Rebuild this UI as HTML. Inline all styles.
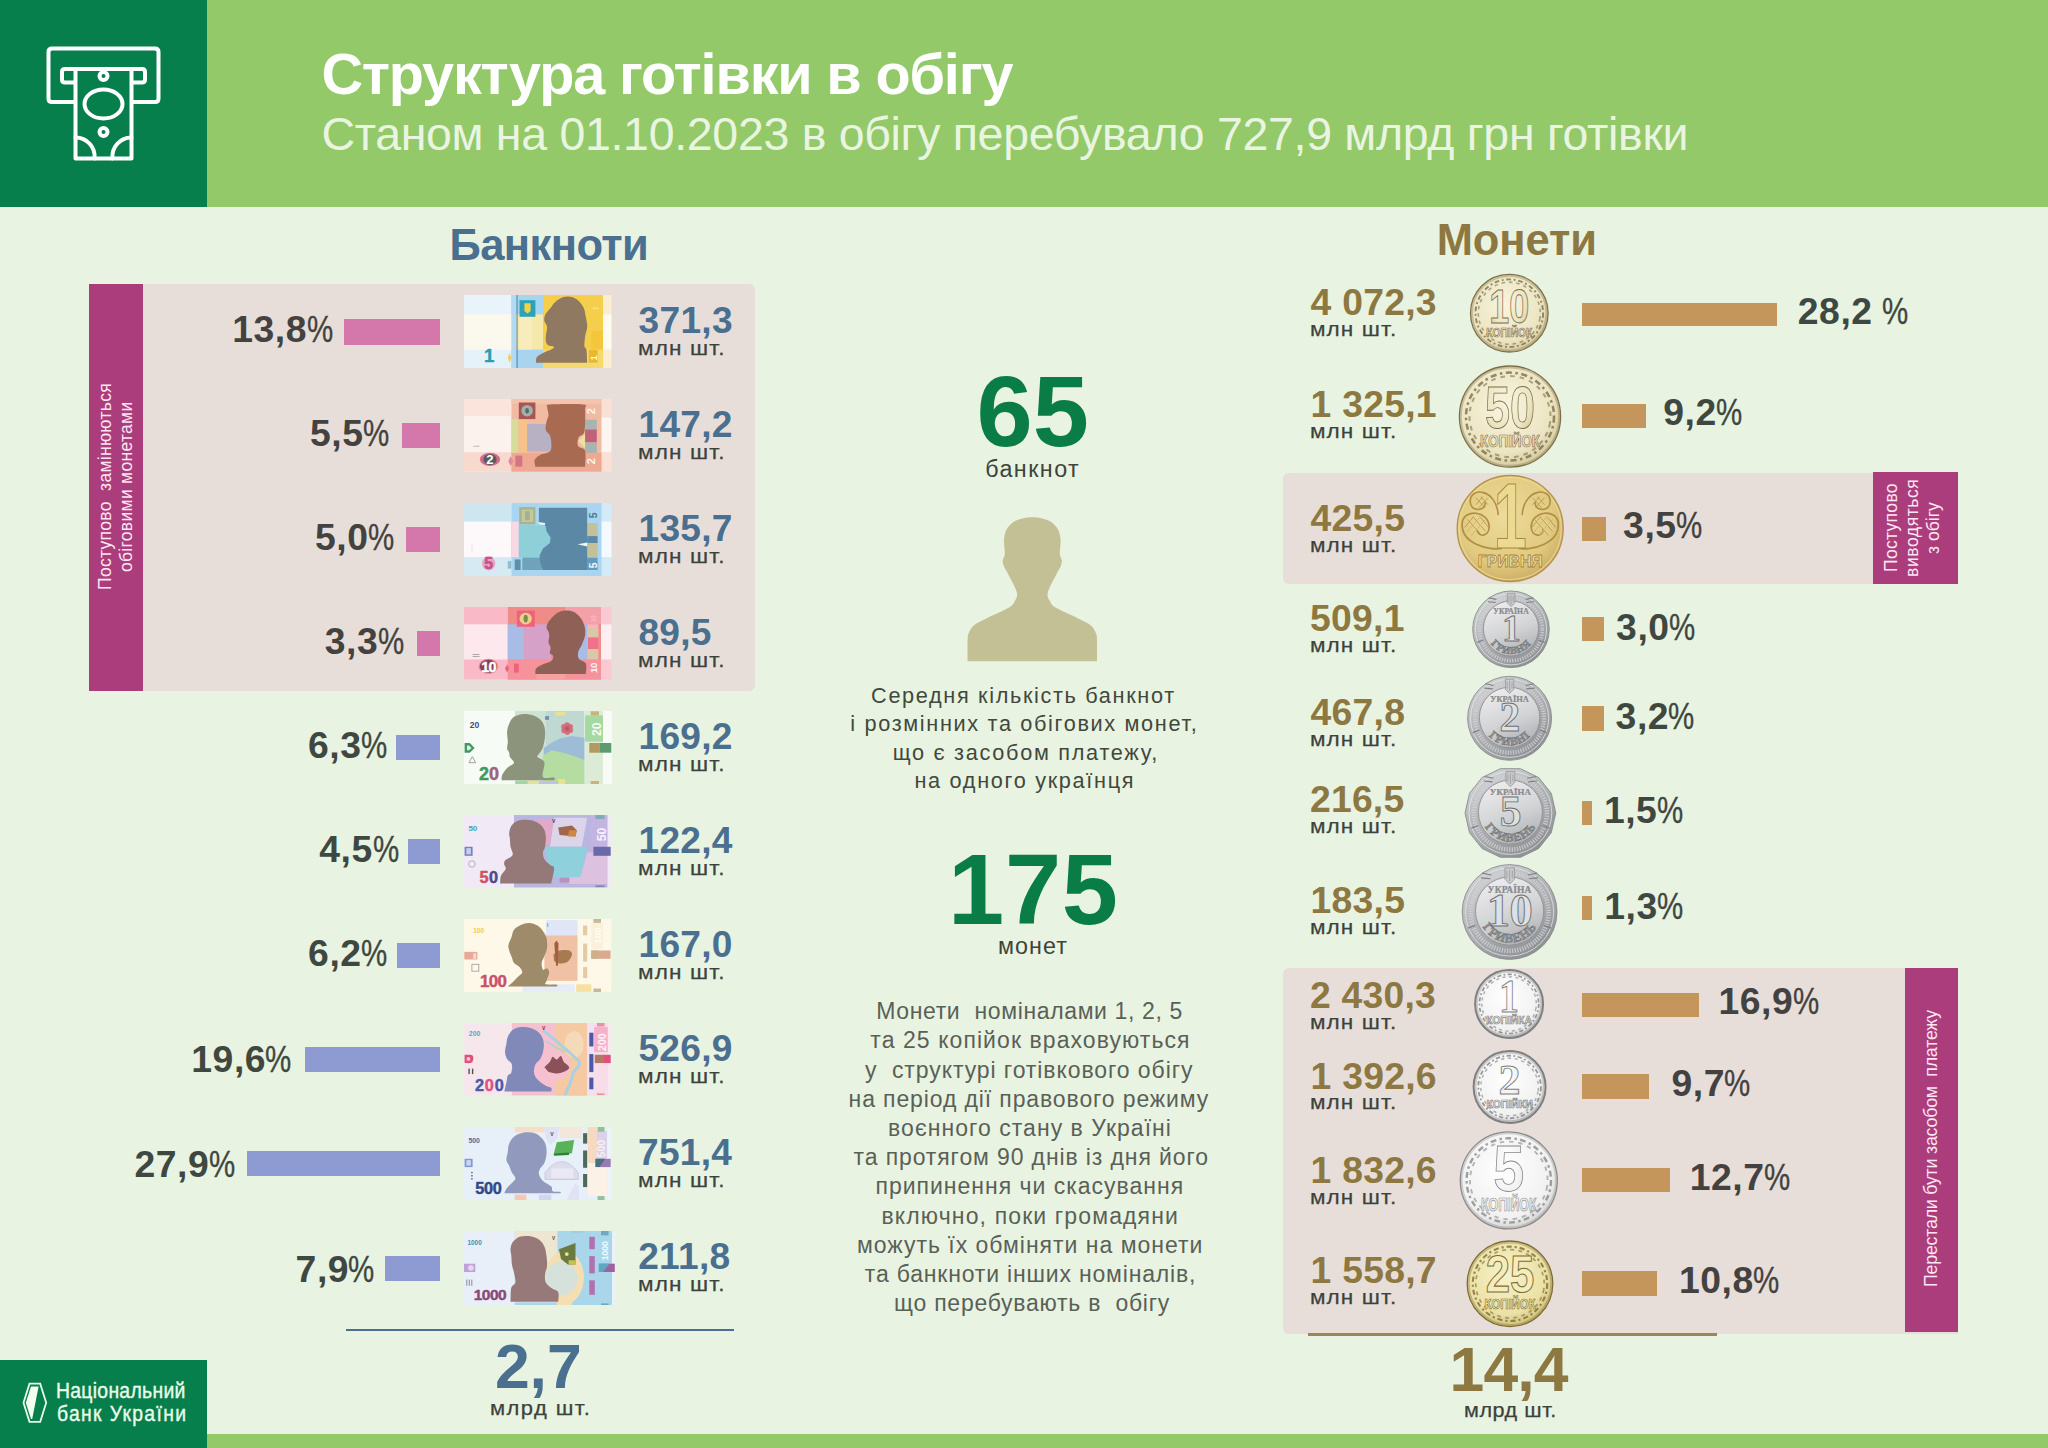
<!DOCTYPE html>
<html lang="uk"><head><meta charset="utf-8"><title>Структура готівки в обігу</title>
<style>
html,body{margin:0;padding:0;}
body{width:2048px;height:1448px;position:relative;overflow:hidden;background:#e9f3e2;font-family:"Liberation Sans",sans-serif;}
.t{position:absolute;white-space:pre;margin:0;padding:0;}
.r{position:absolute;}
svg{position:absolute;overflow:visible;}
</style></head><body>
<header>
<div class="r" style="left:0.0px;top:0.0px;width:2048.0px;height:207.0px;background:#93c968;"></div>
<div class="r" style="left:0.0px;top:0.0px;width:207.0px;height:207.0px;background:#067f4c;"></div>
<svg style="left:40px;top:40px" width="130" height="125" viewBox="40 40 130 125" fill="none" stroke="#fff" stroke-width="4" stroke-linejoin="round" stroke-linecap="round">
<path d="M74 102 H52 Q48.5 102 48.5 98.500 V52 Q48.500 48.500 52 48.500 H155 Q158.500 48.500 158.500 52 V98.500 Q158.500 102 155 102 H133"/>
<path d="M74 82.500 H65 Q62 82.500 62 79.500 V72 Q62 69 65 69 H142 Q145 69 145 72 V79.500 Q145 82.500 142 82.500 H133"/>
<path d="M75.500 69 V158.500 H131.500 V69"/>
<ellipse cx="103.500" cy="104" rx="19" ry="14.500"/>
<circle cx="103.500" cy="76" r="4"/>
<circle cx="103.500" cy="132" r="4"/>
<path d="M75.500 137.500 A 19 19 0 0 1 94.500 158.500"/>
<path d="M131.500 137.500 A 19 19 0 0 0 112.500 158.500"/>
</svg>
<div class="t" style="left:321.4px;top:46.2px;font-size:57.6px;line-height:57.6px;color:#fff;font-weight:700;letter-spacing:-1.17px;">Структура готівки в обігу</div>
<div class="t" style="left:321.4px;top:111.0px;font-size:46.5px;line-height:46.5px;color:#e9f5e0;letter-spacing:-0.31px;">Станом на 01.10.2023 в обігу перебувало 727,9 млрд грн готівки</div>
</header>
<main>
<section class="banknotes">
<div class="t" style="left:449.5px;top:223.6px;font-size:43.5px;line-height:43.5px;color:#4a6f8f;font-weight:700;letter-spacing:-0.58px;">Банкноти</div>
<div class="r" style="left:142.9px;top:283.7px;width:612.3px;height:407.1px;background:#e8ded9;border-radius:0 6px 6px 0;"></div>
<div class="r" style="left:89.2px;top:283.7px;width:53.8px;height:407.1px;background:#ab3d7c;"></div>
<div class="t" style="left:96.7px;top:590.3px;font-size:17.5px;line-height:17.5px;color:#fce6f2;transform-origin:0 0;transform:rotate(-90deg);letter-spacing:0.30px;">Поступово  замінюються</div>
<div class="t" style="left:118.3px;top:572.2px;font-size:17.5px;line-height:17.5px;color:#fce6f2;transform-origin:0 0;transform:rotate(-90deg);letter-spacing:0.30px;">обіговими монетами</div>
<div class="r" style="left:344.3px;top:319.1px;width:95.7px;height:25.6px;background:#d478ac;"></div>
<div class="t" style="left:306.5px;top:311.1px;font-size:37.3px;line-height:37.3px;color:#434240;transform:scaleX(0.791);transform-origin:0 0;-webkit-text-stroke:0.35px #434240;">%</div>
<div class="t" style="left:232.2px;top:311.1px;font-size:37.3px;line-height:37.3px;color:#434240;font-weight:700;letter-spacing:0.55px;">13,8</div>
<svg style="left:464.4px;top:295.1px;overflow:hidden" width="148" height="73.4" viewBox="0 0 148 73.4" font-family="Liberation Sans, sans-serif"><rect x="0.0" y="0.0" width="47.5" height="73.2" fill="#fbf8ee"/><rect x="0.0" y="0.0" width="47.5" height="19.3" fill="#e9f4fa"/><rect x="0.0" y="54.6" width="47.5" height="18.6" fill="#e6f2fa"/><rect x="47.5" y="0.0" width="31.5" height="73.2" fill="#f6e7ab"/><rect x="47.5" y="0.0" width="31.5" height="19.3" fill="#a9d4f0"/><rect x="47.5" y="54.6" width="31.5" height="18.6" fill="#a9d4f0"/><rect x="47.5" y="0.0" width="4.6" height="73.2" fill="#b4d9f2"/><rect x="52.5" y="0.0" width="1.1" height="73.2" fill="#4f8db3"/><rect x="55.5" y="19.3" width="12.4" height="35.2" fill="#f8ecbc"/><rect x="79.0" y="0.0" width="60.1" height="73.2" fill="#f5cf4c"/><rect x="79.0" y="54.6" width="60.1" height="18.6" fill="#f6d96c"/><rect x="127.3" y="35.9" width="11.7" height="18.6" fill="#f3c63c"/><rect x="139.1" y="0.0" width="8.3" height="73.2" fill="#fbedcf"/><rect x="139.1" y="19.3" width="8.3" height="35.2" fill="#fdfaf0"/><rect x="55.5" y="5.2" width="15.9" height="16.6" fill="#2ba3b6"/><polygon points="60.4,8.3 66.6,8.3 66.6,15.9 63.5,18.6 60.4,15.9" fill="#f3d24a"/><path d="M72.1 67.7C72.2 66.8 71.6 63.8 72.8 62.2C73.9 60.5 76.6 59.3 79.0 58.0C81.4 56.7 85.5 55.6 87.3 54.6C89.1 53.5 90.3 52.4 90.1 51.8C89.8 51.2 87.2 51.7 85.9 51.1C84.6 50.5 83.1 50.0 82.5 48.3C81.8 46.7 81.7 44.2 81.8 41.4C81.9 38.7 83.4 34.3 83.1 31.8C82.9 29.2 80.7 28.2 80.4 26.2C80.0 24.3 80.2 22.1 81.1 20.0C82.0 18.0 84.2 16.0 85.9 13.8C87.6 11.6 89.1 8.9 91.4 6.9C93.7 4.9 97.0 2.9 99.7 2.1C102.5 1.3 105.5 1.4 108.0 2.1C110.5 2.8 113.0 4.4 114.9 6.2C116.9 8.1 118.6 10.5 119.8 13.1C120.9 15.8 121.2 19.0 121.8 22.1C122.4 25.2 123.3 28.5 123.2 31.8C123.1 35.0 121.6 38.2 121.1 41.4C120.7 44.7 120.2 48.8 120.4 51.1C120.7 53.4 122.1 52.5 122.5 55.2C123.0 58.0 123.1 65.6 123.2 67.7Z" fill="#8f7960"/><text x="19.9" y="67.0" font-size="18.6" font-weight="700" fill="#2b9db0" text-anchor="start" stroke="#2b9db0" stroke-width="0.450" stroke-linejoin="round">1</text><polygon points="43.8,62.8 45.6,58.0 47.4,62.8 45.6,67.7" fill="#f0cf55"/><rect x="124.6" y="55.0" width="9.0" height="12.7" fill="#e8b82f"/><text x="132.6" y="65.6" font-size="9.7" font-weight="700" fill="#fdf6dd" text-anchor="start" transform="rotate(-90 132.6 65.6)">1</text><text x="133.6" y="15.2" font-size="6.9" font-weight="700" fill="#f8e49a" text-anchor="start" transform="rotate(-90 133.6 15.2)">1</text></svg>
<div class="t" style="left:638.6px;top:301.7px;font-size:37.1px;line-height:37.1px;color:#4a6f8f;font-weight:700;letter-spacing:0.30px;">371,3</div>
<div class="t" style="left:637.9px;top:338.0px;font-size:20.5px;line-height:20.5px;color:#3c423c;letter-spacing:1.05px;transform:scaleX(1.100);transform-origin:0 0;-webkit-text-stroke:0.25px #3c423c;">млн шт.</div>
<div class="r" style="left:401.5px;top:423.3px;width:38.5px;height:24.6px;background:#d478ac;"></div>
<div class="t" style="left:363.2px;top:414.8px;font-size:37.3px;line-height:37.3px;color:#434240;transform:scaleX(0.791);transform-origin:0 0;-webkit-text-stroke:0.35px #434240;">%</div>
<div class="t" style="left:310.0px;top:414.8px;font-size:37.3px;line-height:37.3px;color:#434240;font-weight:700;letter-spacing:0.55px;">5,5</div>
<svg style="left:464.4px;top:399.1px;overflow:hidden" width="148" height="73.4" viewBox="0 0 148 73.4" font-family="Liberation Sans, sans-serif"><rect x="0.0" y="0.0" width="47.5" height="72.5" fill="#fcf2ed"/><rect x="0.0" y="0.0" width="47.5" height="17.3" fill="#fbe4dc"/><rect x="0.0" y="53.2" width="47.5" height="19.3" fill="#f8d9cd"/><rect x="47.5" y="0.0" width="90.2" height="72.5" fill="#f1bba3"/><rect x="47.5" y="53.9" width="90.2" height="18.6" fill="#efa892"/><rect x="47.5" y="0.0" width="90.2" height="4.8" fill="#f3c4ae"/><rect x="47.9" y="20.0" width="6.5" height="33.8" fill="#d6dd9c"/><rect x="54.4" y="20.0" width="8.7" height="33.8" fill="#f5c28c"/><rect x="63.1" y="24.9" width="24.2" height="27.6" fill="#b8b0c3"/><rect x="137.7" y="0.0" width="9.7" height="72.5" fill="#fbe0d6"/><rect x="137.7" y="18.6" width="9.7" height="34.5" fill="#fdf5f1"/><rect x="54.8" y="3.5" width="16.6" height="16.6" fill="#a95652"/><ellipse cx="63.1" cy="11.7" rx="5.8" ry="5.8" fill="#9fb0ad"/><ellipse cx="63.1" cy="11.7" rx="1.9" ry="2.8" fill="#5a6a66"/><polygon points="121.1,35.2 114.2,42.1 121.1,49.0" fill="#e9e59c"/><rect x="121.1" y="20.7" width="11.7" height="9.7" fill="#a9b4b1"/><rect x="121.1" y="30.4" width="11.7" height="13.1" fill="#c0627a"/><rect x="121.1" y="43.5" width="11.7" height="10.4" fill="#a9b4b1"/><path d="M71.4 67.7C71.3 66.5 69.9 62.7 70.7 60.8C71.5 58.8 73.7 57.3 76.2 55.9C78.8 54.6 84.1 54.3 85.9 52.5C87.8 50.6 87.3 47.5 87.3 44.9C87.3 42.2 86.8 38.9 85.9 36.6C85.0 34.3 82.3 33.4 81.8 31.1C81.2 28.8 82.0 25.3 82.5 22.8C82.9 20.3 84.4 18.4 84.5 15.9C84.6 13.4 82.9 9.3 83.1 7.6C83.4 5.9 79.9 5.9 85.9 5.5C91.9 5.2 113.2 4.7 119.1 5.5C124.9 6.3 120.9 5.9 121.1 10.4C121.4 14.8 121.5 27.9 120.4 32.5C119.4 37.1 116.1 35.9 114.9 38.0C113.8 40.1 113.4 43.2 113.5 44.9C113.7 46.6 114.3 47.2 115.6 48.3C116.9 49.5 120.2 48.6 121.1 51.8C122.1 55.0 121.1 65.0 121.1 67.7Z" fill="#a86a50"/><ellipse cx="26.0" cy="60.4" rx="10.1" ry="6.6" fill="#d06c8a"/><ellipse cx="26.0" cy="60.4" rx="6.6" ry="5.5" fill="#5b5a62"/><text x="26.0" y="65.3" font-size="13.1" font-weight="700" fill="#ffffff" text-anchor="middle">2</text><polygon points="44.2,62.2 46.7,57.3 49.2,62.2 46.7,67.0" fill="#e08aa0"/><rect x="51.4" y="56.6" width="6.9" height="11.0" fill="#d27486"/><text x="131.2" y="15.2" font-size="11.0" font-weight="700" fill="#fdf3ee" text-anchor="start" transform="rotate(-90 131.2 15.2)">2</text><text x="131.2" y="65.2" font-size="11.0" font-weight="700" fill="#fdf3ee" text-anchor="start" transform="rotate(-90 131.2 65.2)">2</text><rect x="9.3" y="46.7" width="6.2" height="1.2" fill="#c9c0c0"/></svg>
<div class="t" style="left:638.5px;top:405.7px;font-size:37.1px;line-height:37.1px;color:#4a6f8f;font-weight:700;letter-spacing:0.30px;">147,2</div>
<div class="t" style="left:637.9px;top:442.0px;font-size:20.5px;line-height:20.5px;color:#3c423c;letter-spacing:1.05px;transform:scaleX(1.100);transform-origin:0 0;-webkit-text-stroke:0.25px #3c423c;">млн шт.</div>
<div class="r" style="left:405.6px;top:527.1px;width:34.4px;height:24.8px;background:#d478ac;"></div>
<div class="t" style="left:367.7px;top:519.2px;font-size:37.3px;line-height:37.3px;color:#434240;transform:scaleX(0.791);transform-origin:0 0;-webkit-text-stroke:0.35px #434240;">%</div>
<div class="t" style="left:315.0px;top:519.2px;font-size:37.3px;line-height:37.3px;color:#434240;font-weight:700;letter-spacing:0.55px;">5,0</div>
<svg style="left:464.4px;top:503.1px;overflow:hidden" width="148" height="73.4" viewBox="0 0 148 73.4" font-family="Liberation Sans, sans-serif"><rect x="0.0" y="0.0" width="47.5" height="73.2" fill="#fdf9fa"/><rect x="0.0" y="0.0" width="47.5" height="18.6" fill="#cde6f0"/><rect x="0.0" y="54.1" width="47.5" height="19.1" fill="#d5eaf2"/><rect x="47.5" y="0.0" width="90.2" height="73.2" fill="#a9d5f0"/><rect x="47.5" y="18.6" width="7.3" height="35.5" fill="#f8d9e1"/><rect x="54.8" y="22.1" width="32.5" height="32.5" fill="#8fd0d8"/><rect x="137.7" y="0.0" width="9.7" height="73.2" fill="#d3ebf8"/><rect x="137.7" y="18.6" width="9.7" height="35.5" fill="#f3f9fd"/><rect x="55.2" y="4.1" width="16.2" height="17.3" fill="#a3b598"/><rect x="57.6" y="6.6" width="11.5" height="12.4" fill="#c8c98f"/><rect x="61.0" y="8.3" width="4.8" height="9.0" fill="#9fb0a0"/><rect x="58.3" y="54.6" width="64.9" height="12.4" fill="#6fa3bc"/><rect x="50.7" y="56.4" width="5.9" height="10.6" fill="#5e90aa"/><rect x="43.8" y="58.0" width="3.5" height="7.6" fill="#8fbdd2"/><rect x="123.2" y="20.0" width="10.4" height="13.1" fill="#c2c19a"/><rect x="123.2" y="33.1" width="10.4" height="6.9" fill="#5b88a5"/><rect x="123.2" y="40.1" width="10.4" height="13.8" fill="#c2c19a"/><rect x="123.2" y="54.6" width="10.4" height="12.4" fill="#5f9cc0"/><polygon points="74.9,4.8 123.2,4.8 123.2,67.0 79.0,67.0 76.2,59.4 75.6,52.5 79.0,45.6 85.9,40.1 86.6,34.5 82.5,28.3 81.8,23.5 80.4,21.4 74.9,21.0" fill="#5b88a5"/><polygon points="73.5,19.1 81.1,20.0 81.1,21.8 76.2,21.8" fill="#eef6fa"/><polygon points="113.5,41.2 123.2,39.4 123.2,43.5" fill="#eef6fa"/><text x="132.6" y="15.2" font-size="10.5" font-weight="700" fill="#4a7a95" text-anchor="start" transform="rotate(-90 132.6 15.2)">5</text><text x="132.6" y="65.2" font-size="10.5" font-weight="700" fill="#f2f9fd" text-anchor="start" transform="rotate(-90 132.6 65.2)">5</text><ellipse cx="24.7" cy="60.5" rx="6.6" ry="6.9" fill="#e3a5c4"/><text x="24.7" y="66.3" font-size="15.9" font-weight="700" fill="#c8508a" text-anchor="middle" stroke="#c8508a" stroke-width="0.450" stroke-linejoin="round">5</text><rect x="7.7" y="41.4" width="0.6" height="8.3" fill="#d5d5dc"/></svg>
<div class="t" style="left:638.5px;top:509.7px;font-size:37.1px;line-height:37.1px;color:#4a6f8f;font-weight:700;letter-spacing:0.30px;">135,7</div>
<div class="t" style="left:637.9px;top:546.0px;font-size:20.5px;line-height:20.5px;color:#3c423c;letter-spacing:1.05px;transform:scaleX(1.100);transform-origin:0 0;-webkit-text-stroke:0.25px #3c423c;">млн шт.</div>
<div class="r" style="left:416.7px;top:631.1px;width:23.3px;height:24.6px;background:#d478ac;"></div>
<div class="t" style="left:377.6px;top:623.2px;font-size:37.3px;line-height:37.3px;color:#434240;transform:scaleX(0.791);transform-origin:0 0;-webkit-text-stroke:0.35px #434240;">%</div>
<div class="t" style="left:324.8px;top:623.2px;font-size:37.3px;line-height:37.3px;color:#434240;font-weight:700;letter-spacing:0.55px;">3,3</div>
<svg style="left:464.4px;top:607.1px;overflow:hidden" width="148" height="73.4" viewBox="0 0 148 73.4" font-family="Liberation Sans, sans-serif"><rect x="0.0" y="0.0" width="43.8" height="72.5" fill="#fde8ee"/><rect x="0.0" y="0.0" width="43.8" height="17.3" fill="#f9b9c6"/><rect x="0.0" y="52.5" width="43.8" height="20.0" fill="#f9b9c6"/><rect x="43.8" y="0.0" width="93.2" height="72.5" fill="#f08c87"/><rect x="43.8" y="52.5" width="93.2" height="20.0" fill="#f5929c"/><rect x="101.1" y="0.0" width="35.9" height="17.3" fill="#f4a0a8"/><rect x="43.8" y="17.3" width="16.6" height="35.2" fill="#a9bce5"/><rect x="60.4" y="17.3" width="26.9" height="35.2" fill="#d6a1c9"/><rect x="112.2" y="17.3" width="11.0" height="35.2" fill="#a9bce5"/><rect x="123.2" y="17.3" width="11.0" height="35.2" fill="#f7b4c0"/><rect x="123.9" y="20.7" width="10.4" height="9.7" fill="#d8c8a8"/><rect x="123.9" y="30.4" width="10.4" height="11.7" fill="#f0728a"/><rect x="123.9" y="42.1" width="10.4" height="9.7" fill="#d8c8a8"/><rect x="137.0" y="0.0" width="10.4" height="72.5" fill="#fbc9d4"/><rect x="137.0" y="17.3" width="10.4" height="35.2" fill="#fdeef2"/><rect x="52.8" y="3.5" width="18.0" height="16.3" fill="#f0627c"/><ellipse cx="61.7" cy="11.6" rx="6.2" ry="5.8" fill="#e8cf8a"/><ellipse cx="61.7" cy="11.6" rx="2.1" ry="3.9" fill="#7a8a50"/><path d="M71.4 67.0C71.5 66.1 70.8 63.1 72.1 61.5C73.4 59.9 76.5 58.6 79.0 57.3C81.5 56.1 85.6 55.2 87.3 53.9C89.0 52.5 89.6 50.3 89.4 49.0C89.1 47.8 86.4 47.7 85.9 46.3C85.5 44.9 86.8 42.6 86.6 40.7C86.4 38.9 84.8 37.5 84.5 35.2C84.3 32.9 85.6 29.5 85.2 26.9C84.9 24.4 82.3 22.3 82.5 20.0C82.6 17.7 84.2 15.4 85.9 13.1C87.6 10.8 90.3 7.8 92.8 6.2C95.3 4.6 98.3 3.7 101.1 3.5C103.9 3.2 106.9 3.7 109.4 4.8C111.9 6.0 114.5 8.1 116.3 10.4C118.1 12.7 119.6 15.7 120.4 18.6C121.2 21.6 121.6 25.1 121.1 28.3C120.7 31.5 118.8 35.2 117.7 38.0C116.5 40.7 114.7 42.6 114.2 44.9C113.8 47.2 113.7 49.8 114.9 51.8C116.2 53.8 120.7 54.1 121.8 56.6C123.0 59.2 121.8 65.3 121.8 67.0Z" fill="#8f6056"/><rect x="72.1" y="67.0" width="29.0" height="5.5" fill="#f6a0a0"/><ellipse cx="24.4" cy="59.4" rx="9.9" ry="7.6" fill="#e58aa0"/><ellipse cx="24.4" cy="59.4" rx="8.6" ry="6.6" fill="#8a4152"/><text x="24.4" y="65.2" font-size="14.5" font-weight="700" fill="#ffffff" text-anchor="middle" letter-spacing="-1" stroke="#ffffff" stroke-width="0.450" stroke-linejoin="round">10</text><polygon points="41.0,61.5 43.1,57.3 45.2,61.5 43.1,65.6" fill="#f0627c"/><rect x="50.0" y="56.6" width="4.8" height="9.0" fill="#f0627c"/><text x="132.6" y="65.9" font-size="9.9" font-weight="700" fill="#fff4f6" text-anchor="start" letter-spacing="-0.5" transform="rotate(-90 132.6 65.9)">10</text><text x="132.2" y="15.2" font-size="6.9" font-weight="700" fill="#f8b8c4" text-anchor="start" letter-spacing="-0.5" transform="rotate(-90 132.2 15.2)">10</text><rect x="8.6" y="47.0" width="6.9" height="1.0" fill="#b0a8a8"/><rect x="8.6" y="49.0" width="6.9" height="1.0" fill="#b0a8a8"/></svg>
<div class="t" style="left:638.4px;top:613.7px;font-size:37.1px;line-height:37.1px;color:#4a6f8f;font-weight:700;letter-spacing:0.30px;">89,5</div>
<div class="t" style="left:637.9px;top:650.0px;font-size:20.5px;line-height:20.5px;color:#3c423c;letter-spacing:1.05px;transform:scaleX(1.100);transform-origin:0 0;-webkit-text-stroke:0.25px #3c423c;">млн шт.</div>
<div class="r" style="left:395.9px;top:735.3px;width:44.1px;height:24.8px;background:#8e9bd3;"></div>
<div class="t" style="left:360.8px;top:726.6px;font-size:37.3px;line-height:37.3px;color:#3e4840;transform:scaleX(0.791);transform-origin:0 0;-webkit-text-stroke:0.35px #3e4840;">%</div>
<div class="t" style="left:308.0px;top:726.6px;font-size:37.3px;line-height:37.3px;color:#3e4840;font-weight:700;letter-spacing:0.55px;">6,3</div>
<svg style="left:464.4px;top:711.1px;overflow:hidden" width="148" height="73.4" viewBox="0 0 148 73.4" font-family="Liberation Sans, sans-serif"><rect x="0.0" y="0.0" width="148.1" height="73.5" fill="#f7fbf5"/><rect x="51.4" y="0.0" width="69.1" height="73.5" fill="#bfd9d2"/><rect x="51.4" y="0.0" width="30.4" height="73.5" fill="#cfe3d4"/><polygon points="79.7,36.9 87.3,32.0 95.6,27.6 108.0,25.1 120.4,26.8 120.4,49.3 108.0,44.8 95.6,41.2 79.7,43.8" fill="#9dbdd6"/><polygon points="79.0,73.5 79.0,44.8 87.3,39.2 101.1,42.3 112.2,45.9 120.4,49.2 120.4,73.5" fill="#b5dca1"/><rect x="51.4" y="70.0" width="12.4" height="3.5" fill="#a5d5a1"/><rect x="63.8" y="70.0" width="11.0" height="3.5" fill="#e8e191"/><rect x="74.9" y="70.0" width="19.3" height="3.5" fill="#c1c1e1"/><rect x="94.2" y="68.0" width="6.9" height="5.5" fill="#e8e191"/><rect x="91.4" y="1.0" width="9.7" height="3.5" fill="#e8e191"/><rect x="121.1" y="0.0" width="18.0" height="73.5" fill="#dcebd5"/><rect x="121.1" y="4.4" width="18.0" height="26.2" fill="#a5d9a1"/><rect x="139.1" y="0.0" width="9.0" height="73.5" fill="#f8fbf5"/><rect x="126.7" y="0.3" width="8.3" height="4.1" fill="#c9b37a"/><rect x="126.7" y="70.0" width="8.3" height="3.5" fill="#c9b37a"/><rect x="125.3" y="32.0" width="10.4" height="9.7" fill="#b09a60"/><rect x="135.6" y="32.0" width="11.7" height="9.7" fill="#5e9a70"/><ellipse cx="106.3" cy="19.3" rx="2.8" ry="2.8" fill="#d2727c"/><ellipse cx="103.3" cy="21.1" rx="2.8" ry="2.8" fill="#d2727c"/><ellipse cx="100.1" cy="19.4" rx="2.8" ry="2.8" fill="#d2727c"/><ellipse cx="100.0" cy="15.8" rx="2.8" ry="2.8" fill="#d2727c"/><ellipse cx="103.1" cy="14.0" rx="2.8" ry="2.8" fill="#d2727c"/><ellipse cx="106.2" cy="15.7" rx="2.8" ry="2.8" fill="#d2727c"/><ellipse cx="103.2" cy="17.5" rx="3.3" ry="3.3" fill="#c8626e"/><ellipse cx="103.2" cy="17.5" rx="1.2" ry="1.2" fill="#a85560"/><path d="M37.6 69.3C37.7 68.4 37.3 65.9 38.3 63.8C39.2 61.7 41.1 58.9 43.1 56.9C45.1 54.9 49.5 53.9 50.0 52.1C50.5 50.2 46.7 47.6 45.9 45.9C45.1 44.1 45.6 43.1 45.2 41.7C44.7 40.3 43.3 39.4 43.1 37.6C42.9 35.7 43.8 33.4 43.8 30.7C43.8 27.9 42.9 24.0 43.1 21.0C43.3 18.0 44.0 15.2 45.2 12.7C46.3 10.2 47.6 7.4 50.0 5.8C52.4 4.2 56.4 3.3 59.7 3.0C62.9 2.8 66.6 3.5 69.3 4.4C72.1 5.3 74.4 6.7 76.2 8.6C78.1 10.4 79.6 12.7 80.4 15.5C81.2 18.2 81.3 21.7 81.1 25.1C80.8 28.6 80.0 33.2 79.0 36.2C78.0 39.2 75.8 41.5 74.9 43.1C73.9 44.7 72.6 44.5 73.5 45.9C74.4 47.2 79.5 48.0 80.4 51.4C81.3 54.7 77.4 63.4 79.0 65.9C80.6 68.4 88.2 66.0 90.1 66.6C91.9 67.2 90.1 68.9 90.1 69.3Z" fill="#8c957b"/><text x="5.8" y="17.5" font-size="8.6" font-weight="700" fill="#4a4a7a" text-anchor="start">20</text><polygon points="0.6,32.0 5.8,32.0 10.6,36.9 5.8,41.7 0.6,41.7" fill="#3f9a60"/><polygon points="3.0,34.5 5.1,34.5 7.5,36.9 5.1,39.2 3.0,39.2" fill="#e0f0e0"/><polygon points="8.3,45.6 11.6,51.7 5.0,51.7" fill="none" stroke="#8a8a90" stroke-width="0.8"/><text x="14.9" y="69.3" font-size="18.0" font-weight="700" fill="#3f9a60" text-anchor="start" stroke="#3f9a60" stroke-width="0.450" stroke-linejoin="round">2</text><text x="24.9" y="69.3" font-size="18.0" font-weight="700" fill="#a0617f" text-anchor="start" stroke="#a0617f" stroke-width="0.450" stroke-linejoin="round">0</text><text x="137.3" y="25.1" font-size="12.2" font-weight="700" fill="#f4faf2" text-anchor="start" transform="rotate(-90 137.3 25.1)">20</text><text x="81.1" y="8.6" font-size="4.7" font-weight="700" fill="#5a5a9a" text-anchor="start">M</text></svg>
<div class="t" style="left:638.5px;top:717.7px;font-size:37.1px;line-height:37.1px;color:#4a6f8f;font-weight:700;letter-spacing:0.30px;">169,2</div>
<div class="t" style="left:637.9px;top:754.0px;font-size:20.5px;line-height:20.5px;color:#3c423c;letter-spacing:1.05px;transform:scaleX(1.100);transform-origin:0 0;-webkit-text-stroke:0.25px #3c423c;">млн шт.</div>
<div class="r" style="left:408.4px;top:839.3px;width:31.6px;height:24.8px;background:#8e9bd3;"></div>
<div class="t" style="left:372.5px;top:831.0px;font-size:37.3px;line-height:37.3px;color:#3e4840;transform:scaleX(0.791);transform-origin:0 0;-webkit-text-stroke:0.35px #3e4840;">%</div>
<div class="t" style="left:319.3px;top:831.0px;font-size:37.3px;line-height:37.3px;color:#3e4840;font-weight:700;letter-spacing:0.55px;">4,5</div>
<svg style="left:464.4px;top:815.1px;overflow:hidden" width="148" height="73.4" viewBox="0 0 148 73.4" font-family="Liberation Sans, sans-serif"><rect x="0.0" y="0.0" width="147.4" height="72.5" fill="#f1e9f6"/><rect x="50.0" y="0.0" width="93.6" height="72.5" fill="#bab6e0"/><polygon points="73.5,4.1 91.4,4.1 90.1,24.9 80.4,31.8 73.5,31.8" fill="#e2a9c9"/><polygon points="90.1,2.8 123.2,2.8 117.7,31.8 85.9,31.8 87.3,23.5" fill="#dcd5ea"/><polygon points="80.4,31.8 123.2,31.8 116.3,62.2 90.1,62.2 84.5,49.7" fill="#8fd0dd"/><polygon points="123.2,37.3 143.6,37.3 143.6,69.1 105.2,69.1 105.2,62.2 116.3,62.2" fill="#dcc1e1"/><rect x="95.6" y="62.8" width="9.7" height="4.8" fill="#b891c1"/><rect x="126.7" y="0.0" width="17.0" height="37.3" fill="#c3b4e2"/><rect x="143.6" y="0.0" width="3.7" height="72.5" fill="#efeaf6"/><rect x="131.5" y="0.0" width="9.0" height="4.1" fill="#82aaba"/><rect x="131.5" y="70.4" width="9.0" height="1.7" fill="#8a80b0"/><rect x="129.4" y="31.8" width="17.3" height="9.0" fill="#6a6aa8"/><polygon points="94.2,12.4 108.0,10.4 112.8,15.2 111.5,21.4 95.6,20.0" fill="#a0674a"/><polygon points="105.2,15.2 112.8,15.2 111.5,21.4 103.9,21.4" fill="#d08a40"/><path d="M36.2 68.4C36.3 67.1 36.0 63.2 36.9 60.8C37.8 58.4 41.1 55.7 41.7 53.9C42.3 52.0 40.4 51.1 40.3 49.7C40.2 48.3 39.6 47.2 41.0 45.6C42.4 44.0 47.7 42.4 48.6 40.1C49.5 37.8 47.0 34.5 46.5 31.8C46.1 29.0 46.1 25.8 45.9 23.5C45.6 21.2 44.9 20.0 45.2 18.0C45.4 15.9 46.0 13.0 47.2 11.0C48.5 9.1 50.2 7.3 52.8 6.2C55.3 5.2 59.2 4.7 62.4 4.8C65.7 4.9 69.3 5.6 72.1 6.9C74.9 8.2 77.4 10.1 79.0 12.4C80.6 14.7 81.4 17.5 81.8 20.7C82.1 23.9 81.5 29.0 81.1 31.8C80.6 34.5 79.1 35.2 79.0 37.3C78.9 39.4 79.2 42.1 80.4 44.2C81.5 46.3 84.3 48.2 85.9 49.7C87.5 51.2 89.8 50.1 90.1 53.2C90.3 56.3 87.8 65.8 87.3 68.4Z" fill="#957979"/><text x="4.4" y="15.9" font-size="8.0" font-weight="700" fill="#3fa5b5" text-anchor="start">50</text><rect x="0.6" y="31.8" width="8.0" height="9.0" fill="#7282ba"/><rect x="2.3" y="33.1" width="4.6" height="6.2" fill="#c5cdf0"/><ellipse cx="7.9" cy="49.0" rx="3.3" ry="3.3" fill="none" stroke="#a8a8b8" stroke-width="0.9"/><text x="15.5" y="67.7" font-size="16.3" font-weight="700" fill="#d05262" text-anchor="start" stroke="#d05262" stroke-width="0.450" stroke-linejoin="round">5</text><text x="25.1" y="67.7" font-size="16.3" font-weight="700" fill="#4a4a8c" text-anchor="start" stroke="#4a4a8c" stroke-width="0.450" stroke-linejoin="round">0</text><text x="141.9" y="26.2" font-size="12.2" font-weight="700" fill="#f6f2fb" text-anchor="start" transform="rotate(-90 141.9 26.2)">50</text><text x="88.0" y="8.3" font-size="5.0" font-weight="700" fill="#3a3a6a" text-anchor="start">V</text></svg>
<div class="t" style="left:638.5px;top:821.7px;font-size:37.1px;line-height:37.1px;color:#4a6f8f;font-weight:700;letter-spacing:0.30px;">122,4</div>
<div class="t" style="left:637.9px;top:858.0px;font-size:20.5px;line-height:20.5px;color:#3c423c;letter-spacing:1.05px;transform:scaleX(1.100);transform-origin:0 0;-webkit-text-stroke:0.25px #3c423c;">млн шт.</div>
<div class="r" style="left:396.8px;top:943.1px;width:43.2px;height:24.8px;background:#8e9bd3;"></div>
<div class="t" style="left:360.8px;top:934.8px;font-size:37.3px;line-height:37.3px;color:#3e4840;transform:scaleX(0.791);transform-origin:0 0;-webkit-text-stroke:0.35px #3e4840;">%</div>
<div class="t" style="left:308.1px;top:934.8px;font-size:37.3px;line-height:37.3px;color:#3e4840;font-weight:700;letter-spacing:0.55px;">6,2</div>
<svg style="left:464.4px;top:919.1px;overflow:hidden" width="148" height="73.4" viewBox="0 0 148 73.4" font-family="Liberation Sans, sans-serif"><rect x="0.0" y="0.0" width="147.4" height="72.9" fill="#fdf8e7"/><rect x="81.8" y="1.1" width="31.8" height="15.2" fill="#e1e6f6"/><rect x="80.4" y="16.3" width="33.1" height="45.6" fill="#f1c1a6"/><rect x="58.3" y="65.3" width="52.5" height="7.6" fill="#e6ebf6"/><rect x="112.2" y="65.3" width="15.2" height="7.6" fill="#f5e1a1"/><rect x="119.1" y="6.6" width="4.1" height="9.7" fill="#e3caa1"/><rect x="119.1" y="24.6" width="4.1" height="18.0" fill="#e3caa1"/><rect x="119.1" y="48.1" width="4.1" height="11.0" fill="#e3caa1"/><rect x="127.3" y="3.9" width="11.7" height="26.2" fill="#fbf0da"/><rect x="127.3" y="31.5" width="19.3" height="8.3" fill="#dba992"/><rect x="127.3" y="31.5" width="6.9" height="8.3" fill="#cdb08a"/><rect x="129.4" y="0.0" width="7.6" height="3.9" fill="#c9b999"/><rect x="129.4" y="69.5" width="7.6" height="3.5" fill="#c9b999"/><path d="M89.4 35.6C90.4 34.9 92.9 32.2 95.6 31.5C98.2 30.8 103.2 30.8 105.2 31.5C107.3 32.2 108.2 33.8 108.0 35.6C107.8 37.5 105.9 41.0 103.9 42.5C101.8 44.0 97.9 44.7 95.6 44.6C93.3 44.5 91.0 42.3 90.1 41.9Z" fill="#a97951"/><polygon points="90.3,24.6 92.5,21.5 94.5,24.6 93.9,46.7 92.1,46.7" fill="#a06040"/><path d="M43.8 67.4C44.6 66.7 46.9 64.9 48.6 63.3C50.3 61.6 52.5 59.3 54.1 57.7C55.8 56.1 58.1 55.2 58.3 53.6C58.5 52.0 56.9 49.7 55.5 48.1C54.1 46.5 51.3 45.5 50.0 43.9C48.7 42.3 48.7 40.5 47.9 38.4C47.1 36.3 45.7 33.6 45.2 31.5C44.6 29.4 44.1 28.0 44.5 26.0C44.8 23.9 46.3 21.6 47.2 19.1C48.2 16.5 48.4 13.0 50.0 10.8C51.6 8.6 54.4 7.1 56.9 5.9C59.4 4.8 62.4 3.8 65.2 3.9C68.0 4.0 71.2 5.2 73.5 6.6C75.8 8.0 77.5 10.1 79.0 12.2C80.5 14.2 81.8 16.3 82.5 19.1C83.1 21.8 83.5 25.7 83.1 28.7C82.8 31.7 81.3 34.5 80.4 37.0C79.5 39.5 77.9 41.6 77.6 43.9C77.4 46.2 78.1 49.9 79.0 50.8C79.9 51.7 82.1 49.0 83.1 49.4C84.2 49.9 85.3 51.5 85.2 53.6C85.1 55.7 83.0 59.9 82.5 61.9C81.9 63.8 80.0 64.7 81.8 65.3C83.5 66.0 91.0 65.4 92.8 65.7C94.7 66.1 92.8 67.1 92.8 67.4Z" fill="#9e8b69"/><text x="9.3" y="14.2" font-size="6.4" font-weight="700" fill="#f0c850" text-anchor="start">100</text><rect x="0.3" y="32.9" width="13.1" height="7.6" fill="#e9a999"/><rect x="9.3" y="34.3" width="2.8" height="5.5" fill="#f8dcd4"/><rect x="7.9" y="45.3" width="6.9" height="6.9" fill="none" stroke="#9a9aa0" stroke-width="0.8"/><text x="15.9" y="68.1" font-size="16.9" font-weight="700" fill="#c8526c" text-anchor="start" letter-spacing="-0.6" stroke="#c8526c" stroke-width="0.450" stroke-linejoin="round">100</text><text x="137.0" y="24.6" font-size="9.7" font-weight="700" fill="#fffdf4" text-anchor="start" transform="rotate(-90 137.0 24.6)">100</text><text x="82.9" y="8.0" font-size="4.7" font-weight="700" fill="#7a7a9a" text-anchor="start">I</text></svg>
<div class="t" style="left:638.5px;top:925.7px;font-size:37.1px;line-height:37.1px;color:#4a6f8f;font-weight:700;letter-spacing:0.30px;">167,0</div>
<div class="t" style="left:637.9px;top:962.0px;font-size:20.5px;line-height:20.5px;color:#3c423c;letter-spacing:1.05px;transform:scaleX(1.100);transform-origin:0 0;-webkit-text-stroke:0.25px #3c423c;">млн шт.</div>
<div class="r" style="left:304.6px;top:1047.2px;width:135.4px;height:24.8px;background:#8e9bd3;"></div>
<div class="t" style="left:265.4px;top:1040.9px;font-size:37.3px;line-height:37.3px;color:#3e4840;transform:scaleX(0.791);transform-origin:0 0;-webkit-text-stroke:0.35px #3e4840;">%</div>
<div class="t" style="left:191.3px;top:1040.9px;font-size:37.3px;line-height:37.3px;color:#3e4840;font-weight:700;letter-spacing:0.55px;">19,6</div>
<svg style="left:464.4px;top:1023.1px;overflow:hidden" width="148" height="73.4" viewBox="0 0 148 73.4" font-family="Liberation Sans, sans-serif"><rect x="0.0" y="0.0" width="147.4" height="72.5" fill="#f6e7ed"/><rect x="47.9" y="0.0" width="75.3" height="72.5" fill="#f5c1d1"/><rect x="91.4" y="0.0" width="31.8" height="72.5" fill="#f5c9a1"/><ellipse cx="93.5" cy="42.8" rx="13.1" ry="13.8" fill="#f5c1d1"/><ellipse cx="110.1" cy="21.4" rx="9.7" ry="13.1" fill="#f5dab9"/><path d="M79.0 7.6C80.4 8.6 84.3 11.4 87.3 13.8C90.3 16.2 93.5 19.1 97.0 22.1C100.4 25.1 104.9 28.8 108.0 31.8C111.1 34.8 115.4 37.1 115.6 40.1C115.8 43.0 110.9 46.5 109.4 49.7C107.9 52.9 108.0 55.7 106.6 59.4C105.2 63.1 102.0 69.8 101.1 71.8" fill="none" stroke="#a9d1e1" stroke-width="3"/><path d="M81.8 18.0C83.6 19.1 89.6 23.0 92.8 24.9C96.0 26.7 99.7 28.3 101.1 29.0" fill="none" stroke="#a9d1e1" stroke-width="1.600"/><path d="M80.4 44.2C81.3 43.3 84.5 40.4 85.9 38.7C87.3 36.9 87.5 34.2 88.7 33.8C89.8 33.5 91.4 36.7 92.8 36.6C94.2 36.5 95.8 32.8 97.0 33.1C98.1 33.5 98.3 36.8 99.7 38.7C101.1 40.5 105.0 42.6 105.2 44.2C105.5 45.8 103.2 47.3 101.1 48.3C99.0 49.4 95.6 50.3 92.8 50.4C90.1 50.5 85.9 49.3 84.5 49.0Z" fill="#8a5159"/><rect x="123.2" y="0.0" width="6.9" height="72.5" fill="#f1e1f1"/><rect x="125.3" y="9.7" width="4.1" height="13.8" fill="#4a5aa8"/><rect x="125.3" y="31.1" width="4.1" height="18.0" fill="#4a5aa8"/><rect x="125.3" y="54.6" width="4.1" height="11.7" fill="#4a5aa8"/><rect x="130.1" y="0.0" width="13.8" height="72.5" fill="#f8dde8"/><rect x="130.1" y="4.1" width="13.8" height="24.9" fill="#f5b1c9"/><rect x="143.9" y="0.0" width="3.5" height="72.5" fill="#f6eaf0"/><rect x="132.9" y="0.0" width="7.6" height="3.5" fill="#e891a1"/><rect x="132.9" y="70.4" width="7.6" height="1.7" fill="#e891a1"/><rect x="130.8" y="31.8" width="8.3" height="8.3" fill="#b07961"/><rect x="139.1" y="31.8" width="7.6" height="8.3" fill="#e05179"/><path d="M40.3 68.4C40.7 66.9 41.8 62.0 42.4 59.4C43.0 56.7 43.0 54.1 43.8 52.5C44.6 50.9 46.5 51.6 47.2 49.7C47.9 47.9 48.6 43.7 47.9 41.4C47.2 39.1 44.2 38.0 43.1 35.9C41.9 33.8 41.1 31.5 41.0 29.0C40.9 26.5 41.9 23.3 42.4 20.7C42.9 18.2 42.7 16.1 43.8 13.8C44.8 11.5 46.4 8.5 48.6 6.9C50.8 5.3 53.7 4.4 56.9 4.1C60.1 3.9 64.7 4.4 68.0 5.5C71.2 6.7 74.3 8.7 76.2 11.0C78.2 13.4 79.2 16.3 79.7 19.3C80.2 22.3 79.6 26.2 79.0 29.0C78.4 31.8 77.5 33.8 76.2 35.9C75.0 38.0 72.4 39.1 71.4 41.4C70.4 43.7 69.7 47.2 70.0 49.7C70.4 52.3 71.5 54.4 73.5 56.6C75.4 58.8 79.5 61.5 81.8 62.8C84.1 64.2 86.4 64.0 87.3 64.9C88.2 65.8 87.3 67.8 87.3 68.4Z" fill="#8189b9"/><text x="4.8" y="13.1" font-size="6.9" font-weight="700" fill="#5aa8c0" text-anchor="start">200</text><path d="M0.6 31.8C1.8 31.8 6.4 31.4 7.9 32.0C9.3 32.7 9.4 34.6 9.3 35.9C9.1 37.2 8.6 39.1 7.2 39.8C5.7 40.5 1.7 40.0 0.6 40.1Z" fill="#e05179"/><ellipse cx="4.4" cy="35.9" rx="1.9" ry="1.9" fill="#f8c8d4"/><rect x="4.4" y="45.6" width="1.4" height="5.5" fill="#5a4a5a"/><rect x="7.9" y="45.6" width="1.4" height="5.5" fill="#5a4a5a"/><text x="11.0" y="67.7" font-size="16.3" font-weight="700" fill="#4a5aa8" text-anchor="start" stroke="#4a5aa8" stroke-width="0.450" stroke-linejoin="round">2</text><text x="20.7" y="67.7" font-size="16.3" font-weight="700" fill="#e0517f" text-anchor="start" stroke="#e0517f" stroke-width="0.450" stroke-linejoin="round">0</text><text x="30.7" y="67.7" font-size="16.3" font-weight="700" fill="#4a5aa8" text-anchor="start" stroke="#4a5aa8" stroke-width="0.450" stroke-linejoin="round">0</text><text x="142.3" y="27.9" font-size="10.5" font-weight="700" fill="#fdf3f7" text-anchor="start" transform="rotate(-90 142.3 27.9)">200</text><text x="77.9" y="6.9" font-size="5.0" font-weight="700" fill="#7a2a3a" text-anchor="start">V</text></svg>
<div class="t" style="left:638.4px;top:1029.7px;font-size:37.1px;line-height:37.1px;color:#4a6f8f;font-weight:700;letter-spacing:0.30px;">526,9</div>
<div class="t" style="left:637.9px;top:1066.0px;font-size:20.5px;line-height:20.5px;color:#3c423c;letter-spacing:1.05px;transform:scaleX(1.100);transform-origin:0 0;-webkit-text-stroke:0.25px #3c423c;">млн шт.</div>
<div class="r" style="left:247.4px;top:1151.2px;width:192.6px;height:24.6px;background:#8e9bd3;"></div>
<div class="t" style="left:208.6px;top:1145.7px;font-size:37.3px;line-height:37.3px;color:#3e4840;transform:scaleX(0.791);transform-origin:0 0;-webkit-text-stroke:0.35px #3e4840;">%</div>
<div class="t" style="left:134.5px;top:1145.7px;font-size:37.3px;line-height:37.3px;color:#3e4840;font-weight:700;letter-spacing:0.55px;">27,9</div>
<svg style="left:464.4px;top:1127.1px;overflow:hidden" width="148" height="73.4" viewBox="0 0 148 73.4" font-family="Liberation Sans, sans-serif"><rect x="0.0" y="0.0" width="147.4" height="73.2" fill="#e7eff9"/><rect x="50.7" y="0.0" width="29.7" height="5.5" fill="#f5ddc6"/><rect x="95.6" y="0.0" width="22.1" height="11.0" fill="#f3e6da"/><polygon points="80.4,0.0 95.6,0.0 93.5,11.0 85.9,18.0 81.8,11.0" fill="#dfe3f3"/><rect x="50.7" y="67.7" width="11.7" height="5.5" fill="#f5c9b1"/><rect x="74.9" y="67.7" width="12.4" height="5.5" fill="#d1d6f1"/><polygon points="102.5,73.2 110.8,56.6 114.9,59.4 114.9,73.2" fill="#dfe3f3"/><path d="M81.1 52.5 V45.6 Q97.7 23.5 114.2 45.6 V52.5 Z" fill="#dcdcec" stroke="#c5c5df" stroke-width="0.800"/><rect x="87.3" y="41.4" width="22.1" height="9.7" fill="#e9e9f5"/><rect x="119.1" y="6.2" width="4.1" height="10.4" fill="#4a6a5a"/><rect x="119.1" y="23.5" width="4.1" height="17.3" fill="#4a6a5a"/><rect x="119.1" y="47.0" width="4.1" height="13.1" fill="#4a6a5a"/><rect x="123.9" y="0.0" width="9.0" height="35.9" fill="#f5d9c1"/><rect x="123.9" y="35.9" width="19.3" height="33.1" fill="#fbf1e6"/><rect x="132.9" y="4.1" width="10.4" height="27.6" fill="#dad2ea"/><rect x="143.2" y="0.0" width="4.1" height="73.2" fill="#eef3fa"/><rect x="133.6" y="0.0" width="6.9" height="4.8" fill="#91c199"/><rect x="133.6" y="69.1" width="6.9" height="4.1" fill="#91c199"/><polygon points="131.5,31.8 146.7,31.8 146.7,40.1 131.5,40.1" fill="#9879b1"/><polygon points="131.5,31.8 141.2,31.8 135.6,40.1 131.5,40.1" fill="#4a7181"/><polygon points="92.8,15.2 110.1,13.1 108.0,26.2 89.4,28.3" fill="#59b159"/><polygon points="90.1,26.5 105.2,25.6 105.0,27.9 90.3,28.7" fill="#2f7f3f"/><path d="M40.3 66.3C40.8 65.4 41.7 62.6 43.1 60.8C44.5 58.9 47.2 56.9 48.6 55.2C50.0 53.6 51.5 52.7 51.4 51.1C51.3 49.5 49.0 47.7 47.9 45.6C46.9 43.5 46.1 40.7 45.2 38.7C44.2 36.6 42.6 35.5 42.4 33.1C42.2 30.8 43.3 27.6 43.8 24.9C44.2 22.1 44.1 19.1 45.2 16.6C46.2 14.0 47.6 11.5 50.0 9.7C52.4 7.8 56.2 6.1 59.7 5.5C63.1 4.9 67.7 5.3 70.7 6.2C73.7 7.1 75.8 9.1 77.6 11.0C79.5 13.0 81.0 15.2 81.8 18.0C82.6 20.7 82.7 24.6 82.5 27.6C82.2 30.6 81.4 33.6 80.4 35.9C79.4 38.2 77.2 39.6 76.2 41.4C75.3 43.3 74.4 44.9 74.9 47.0C75.3 49.0 76.9 51.8 79.0 53.9C81.1 55.9 85.7 57.7 87.3 59.4C88.9 61.1 87.2 63.3 88.7 64.2C90.2 65.1 95.0 64.6 96.3 64.9C97.5 65.3 96.3 66.1 96.3 66.3Z" fill="#9199bd"/><text x="4.4" y="16.3" font-size="6.9" font-weight="700" fill="#5a6a88" text-anchor="start">500</text><rect x="0.6" y="31.8" width="8.0" height="8.3" fill="#8199d1"/><rect x="2.3" y="33.1" width="4.6" height="5.5" fill="#c9d5f3"/><rect x="7.2" y="44.9" width="1.4" height="1.4" fill="#4a5a6a"/><rect x="7.2" y="48.1" width="1.4" height="1.4" fill="#4a5a6a"/><rect x="7.2" y="51.2" width="1.4" height="1.4" fill="#4a5a6a"/><text x="11.3" y="66.7" font-size="16.3" font-weight="700" fill="#2f4a88" text-anchor="start" letter-spacing="-0.3" stroke="#2f4a88" stroke-width="0.450" stroke-linejoin="round">500</text><text x="141.4" y="30.4" font-size="10.5" font-weight="700" fill="#f8f0ec" text-anchor="start" transform="rotate(-90 141.4 30.4)">500</text><text x="86.3" y="9.0" font-size="5.0" font-weight="700" fill="#3a4a7a" text-anchor="start">V</text></svg>
<div class="t" style="left:638.0px;top:1133.7px;font-size:37.1px;line-height:37.1px;color:#4a6f8f;font-weight:700;letter-spacing:0.30px;">751,4</div>
<div class="t" style="left:637.9px;top:1170.0px;font-size:20.5px;line-height:20.5px;color:#3c423c;letter-spacing:1.05px;transform:scaleX(1.100);transform-origin:0 0;-webkit-text-stroke:0.25px #3c423c;">млн шт.</div>
<div class="r" style="left:385.2px;top:1256.2px;width:54.8px;height:25.0px;background:#8e9bd3;"></div>
<div class="t" style="left:348.4px;top:1250.5px;font-size:37.3px;line-height:37.3px;color:#3e4840;transform:scaleX(0.791);transform-origin:0 0;-webkit-text-stroke:0.35px #3e4840;">%</div>
<div class="t" style="left:295.6px;top:1250.5px;font-size:37.3px;line-height:37.3px;color:#3e4840;font-weight:700;letter-spacing:0.55px;">7,9</div>
<svg style="left:464.4px;top:1231.1px;overflow:hidden" width="152" height="74.4" viewBox="0 0 152 74.4" font-family="Liberation Sans, sans-serif"><rect x="0.0" y="0.0" width="148.1" height="74.2" fill="#e9eff9"/><rect x="50.7" y="0.0" width="97.4" height="74.2" fill="#a9d6eb"/><rect x="50.7" y="0.0" width="42.8" height="71.4" fill="#ede6d1"/><ellipse cx="100.8" cy="46.5" rx="19.1" ry="26.9" fill="#f5deb1"/><rect x="92.8" y="65.2" width="15.2" height="9.0" fill="#f5deb1"/><ellipse cx="97.2" cy="47.5" rx="16.3" ry="16.9" fill="#d6e1db"/><rect x="125.3" y="5.8" width="5.5" height="12.4" fill="#b171b1"/><rect x="125.3" y="25.1" width="5.5" height="17.3" fill="#b171b1"/><rect x="125.3" y="49.3" width="5.5" height="14.5" fill="#b171b1"/><rect x="148.1" y="0.0" width="3.5" height="74.2" fill="#eaf1f9"/><rect x="137.0" y="0.0" width="7.6" height="4.4" fill="#71a9c1"/><rect x="137.0" y="72.4" width="7.6" height="1.8" fill="#71a9c1"/><rect x="106.6" y="0.0" width="12.4" height="2.3" fill="#9fcfe0"/><polygon points="134.9,32.7 150.8,32.7 150.8,41.0 134.9,41.0" fill="#a161a1"/><polygon points="134.9,32.7 145.3,32.7 139.1,41.0 134.9,41.0" fill="#5aa9c1"/><polygon points="94.9,18.2 111.5,12.0 111.5,33.4 103.9,33.4 97.0,27.9" fill="#6a7b41"/><ellipse cx="102.8" cy="23.1" rx="1.9" ry="1.9" fill="#f0e08a"/><rect x="104.6" y="29.3" width="6.9" height="4.1" fill="#c9c051"/><path d="M46.5 70.7C46.7 68.4 46.4 60.1 47.2 56.9C48.0 53.7 50.9 53.9 51.4 51.4C51.8 48.8 50.6 44.7 50.0 41.7C49.4 38.7 48.4 36.4 47.9 33.4C47.5 30.4 47.5 26.3 47.2 23.8C47.0 21.2 46.3 20.3 46.5 18.2C46.8 16.2 47.1 13.4 48.6 11.3C50.1 9.3 52.8 6.8 55.5 5.8C58.3 4.8 62.0 4.7 65.2 5.1C68.4 5.6 72.3 6.8 74.9 8.6C77.4 10.3 79.1 12.7 80.4 15.5C81.7 18.2 82.0 21.9 82.5 25.1C82.9 28.4 83.4 31.8 83.1 34.8C82.9 37.8 81.3 40.3 81.1 43.1C80.8 45.9 80.7 49.1 81.8 51.4C82.8 53.7 85.2 55.3 87.3 56.9C89.4 58.5 93.0 58.7 94.2 61.0C95.3 63.4 94.2 69.1 94.2 70.7Z" fill="#987979"/><text x="3.5" y="13.8" font-size="6.4" font-weight="700" fill="#3f90a8" text-anchor="start">1000</text><rect x="0.0" y="32.7" width="11.3" height="8.3" fill="#c1a1d9"/><ellipse cx="6.9" cy="36.9" rx="2.8" ry="2.8" fill="#e6d6f1"/><rect x="2.3" y="48.6" width="1.0" height="6.2" fill="#8a8a98"/><rect x="4.8" y="48.6" width="1.0" height="6.2" fill="#8a8a98"/><rect x="7.3" y="48.6" width="1.0" height="6.2" fill="#8a8a98"/><text x="9.7" y="69.3" font-size="15.5" font-weight="700" fill="#8a4979" text-anchor="start" letter-spacing="-0.5" stroke="#8a4979" stroke-width="0.450" stroke-linejoin="round">1000</text><text x="143.9" y="29.3" font-size="8.6" font-weight="700" fill="#f3fafd" text-anchor="start" transform="rotate(-90 143.9 29.3)">1000</text><text x="88.0" y="8.6" font-size="4.7" font-weight="700" fill="#4a4a5a" text-anchor="start">V</text></svg>
<div class="t" style="left:638.2px;top:1237.7px;font-size:37.1px;line-height:37.1px;color:#4a6f8f;font-weight:700;letter-spacing:0.30px;">211,8</div>
<div class="t" style="left:637.9px;top:1274.0px;font-size:20.5px;line-height:20.5px;color:#3c423c;letter-spacing:1.05px;transform:scaleX(1.100);transform-origin:0 0;-webkit-text-stroke:0.25px #3c423c;">млн шт.</div>
<div class="r" style="left:346.0px;top:1328.6px;width:387.6px;height:2.8px;background:#4a6f8f;"></div>
<div class="t" style="left:494.9px;top:1334.9px;font-size:62.5px;line-height:62.5px;color:#4a6f8f;font-weight:700;letter-spacing:-0.04px;">2,7</div>
<div class="t" style="left:489.5px;top:1397.6px;font-size:20.0px;line-height:20.0px;color:#3c423c;letter-spacing:1.29px;transform:scaleX(1.100);transform-origin:0 0;-webkit-text-stroke:0.25px #3c423c;">млрд шт.</div>
</section>
<section class="summary">
<div class="t" style="left:976.4px;top:360.6px;font-size:101.0px;line-height:101.0px;color:#0a7d46;font-weight:700;letter-spacing:0.15px;">65</div>
<div class="t" style="left:985.2px;top:457.9px;font-size:23.3px;line-height:23.3px;color:#3e4439;letter-spacing:1.46px;">банкнот</div>
<svg style="left:0;top:0" width="2048" height="700" viewBox="0 0 2048 700"><path fill="#c3c095" d="M967.6 661.2C967.6 657.7 967.4 644.7 967.6 640.0C967.8 635.3 967.7 635.5 968.8 633.0C969.9 630.5 971.2 627.5 974.3 625.0C977.4 622.5 981.6 620.9 987.3 618.0C993.0 615.1 1004.1 610.6 1008.7 607.8C1013.3 605.0 1013.4 603.3 1014.8 601.0C1016.2 598.7 1017.3 596.7 1017.1 594.0C1016.9 591.3 1015.0 587.8 1013.8 585.0C1012.6 582.2 1011.0 579.8 1009.8 577.5C1008.6 575.2 1007.5 572.9 1006.5 571.0C1005.5 569.1 1004.4 567.8 1003.8 566.0C1003.2 564.2 1002.5 562.3 1002.7 560.5C1002.8 558.7 1004.4 557.1 1004.7 555.0C1005.0 552.9 1004.6 550.5 1004.5 548.0C1004.4 545.5 1003.7 543.0 1004.0 540.0C1004.3 537.0 1004.8 533.0 1006.3 530.0C1007.8 527.0 1010.5 524.0 1013.3 522.0C1016.1 520.0 1020.1 519.0 1023.3 518.2C1026.5 517.4 1029.3 517.3 1032.3 517.3C1035.3 517.3 1038.1 517.4 1041.3 518.2C1044.5 519.0 1048.5 520.0 1051.3 522.0C1054.1 524.0 1056.8 527.0 1058.3 530.0C1059.8 533.0 1060.3 537.0 1060.6 540.0C1060.9 543.0 1060.2 545.5 1060.1 548.0C1060.0 550.5 1059.6 552.9 1059.9 555.0C1060.2 557.1 1061.7 558.7 1061.9 560.5C1062.0 562.3 1061.4 564.2 1060.8 566.0C1060.2 567.8 1059.1 569.1 1058.1 571.0C1057.1 572.9 1056.0 575.2 1054.8 577.5C1053.6 579.8 1052.0 582.2 1050.8 585.0C1049.6 587.8 1047.7 591.3 1047.5 594.0C1047.3 596.7 1048.4 598.7 1049.8 601.0C1051.2 603.3 1051.3 605.0 1055.9 607.8C1060.5 610.6 1071.6 615.1 1077.3 618.0C1083.0 620.9 1087.2 622.5 1090.3 625.0C1093.4 627.5 1094.7 630.5 1095.8 633.0C1096.9 635.5 1096.8 635.3 1097.0 640.0C1097.2 644.7 1097.0 657.7 1097.0 661.2Z"/></svg>
<div class="t" style="left:871.1px;top:684.7px;font-size:21.7px;line-height:21.7px;color:#41483c;letter-spacing:1.65px;">Середня кількість банкнот</div>
<div class="t" style="left:850.3px;top:713.1px;font-size:21.7px;line-height:21.7px;color:#41483c;letter-spacing:1.66px;">і розмінних та обігових монет,</div>
<div class="t" style="left:892.7px;top:741.5px;font-size:21.7px;line-height:21.7px;color:#41483c;letter-spacing:1.71px;">що є засобом платежу,</div>
<div class="t" style="left:914.4px;top:769.9px;font-size:21.7px;line-height:21.7px;color:#41483c;letter-spacing:1.69px;">на одного українця</div>
<div class="t" style="left:948.0px;top:838.7px;font-size:101.0px;line-height:101.0px;color:#0a7d46;font-weight:700;letter-spacing:0.71px;">175</div>
<div class="t" style="left:998.1px;top:935.1px;font-size:23.3px;line-height:23.3px;color:#3e4439;letter-spacing:1.01px;">монет</div>
<div class="t" style="left:876.2px;top:1000.2px;font-size:23.0px;line-height:23.0px;color:#596157;letter-spacing:0.64px;">Монети  номіналами 1, 2, 5</div>
<div class="t" style="left:870.3px;top:1029.4px;font-size:23.0px;line-height:23.0px;color:#596157;letter-spacing:1.07px;">та 25 копійок враховуються</div>
<div class="t" style="left:864.9px;top:1058.6px;font-size:23.0px;line-height:23.0px;color:#596157;letter-spacing:0.92px;">у  структурі готівкового обігу</div>
<div class="t" style="left:848.6px;top:1087.8px;font-size:23.0px;line-height:23.0px;color:#596157;letter-spacing:0.88px;">на період дії правового режиму</div>
<div class="t" style="left:888.1px;top:1117.0px;font-size:23.0px;line-height:23.0px;color:#596157;letter-spacing:1.04px;">воєнного стану в Україні</div>
<div class="t" style="left:853.6px;top:1146.2px;font-size:23.0px;line-height:23.0px;color:#596157;letter-spacing:0.88px;">та протягом 90 днів із дня його</div>
<div class="t" style="left:875.5px;top:1175.4px;font-size:23.0px;line-height:23.0px;color:#596157;letter-spacing:0.99px;">припинення чи скасування</div>
<div class="t" style="left:881.5px;top:1204.6px;font-size:23.0px;line-height:23.0px;color:#596157;letter-spacing:1.13px;">включно, поки громадяни</div>
<div class="t" style="left:857.0px;top:1233.8px;font-size:23.0px;line-height:23.0px;color:#596157;letter-spacing:0.99px;">можуть їх обміняти на монети</div>
<div class="t" style="left:864.8px;top:1263.0px;font-size:23.0px;line-height:23.0px;color:#596157;letter-spacing:0.82px;">та банкноти інших номіналів,</div>
<div class="t" style="left:894.1px;top:1292.2px;font-size:23.0px;line-height:23.0px;color:#596157;letter-spacing:0.74px;">що перебувають в  обігу</div>
</section>
<section class="coins">
<div class="t" style="left:1436.7px;top:218.7px;font-size:43.5px;line-height:43.5px;color:#8c7840;font-weight:700;letter-spacing:-0.11px;">Монети</div>
<div class="r" style="left:1282.6px;top:473.0px;width:675.6px;height:110.6px;background:#e8ded9;border-radius:6px 0 0 6px;"></div>
<div class="r" style="left:1872.9px;top:472.3px;width:85.4px;height:111.4px;background:#ab3d7c;"></div>
<div class="t" style="left:1883.4px;top:572.2px;font-size:17.5px;line-height:17.5px;color:#fce6f2;transform-origin:0 0;transform:rotate(-90deg);letter-spacing:0.31px;">Поступово</div>
<div class="t" style="left:1904.2px;top:576.7px;font-size:17.5px;line-height:17.5px;color:#fce6f2;transform-origin:0 0;transform:rotate(-90deg);letter-spacing:0.58px;">виводяться</div>
<div class="t" style="left:1924.5px;top:554.3px;font-size:17.5px;line-height:17.5px;color:#fce6f2;transform-origin:0 0;transform:rotate(-90deg);letter-spacing:0.02px;">з обігу</div>
<div class="r" style="left:1282.7px;top:968.0px;width:675.6px;height:365.6px;background:#e8ded9;border-radius:6px 0 0 6px;"></div>
<div class="r" style="left:1904.9px;top:968.0px;width:53.4px;height:364.0px;background:#ab3d7c;"></div>
<div class="t" style="left:1922.9px;top:1287.3px;font-size:17.8px;line-height:17.8px;color:#fce6f2;transform-origin:0 0;transform:rotate(-90deg);letter-spacing:-0.21px;">Перестали бути засобом  платежу</div>
<div class="r" style="left:1582.3px;top:302.6px;width:194.5px;height:23.9px;background:#c4965c;"></div>
<div class="t" style="left:1882.3px;top:293.1px;font-size:37.3px;line-height:37.3px;color:#3e4840;transform:scaleX(0.791);transform-origin:0 0;-webkit-text-stroke:0.35px #3e4840;">%</div>
<div class="t" style="left:1797.8px;top:293.1px;font-size:37.3px;line-height:37.3px;color:#3e4840;font-weight:700;letter-spacing:0.55px;">28,2</div>
<div class="t" style="left:1310.6px;top:284.4px;font-size:37.3px;line-height:37.3px;color:#8c7840;font-weight:700;letter-spacing:0.25px;">4 072,3</div>
<div class="t" style="left:1310.0px;top:319.3px;font-size:20.5px;line-height:20.5px;color:#3c423c;letter-spacing:1.00px;transform:scaleX(1.100);transform-origin:0 0;-webkit-text-stroke:0.25px #3c423c;">млн шт.</div>
<div class="r" style="left:1582.3px;top:404.0px;width:63.8px;height:24.2px;background:#c4965c;"></div>
<div class="t" style="left:1716.0px;top:393.8px;font-size:37.3px;line-height:37.3px;color:#3e4840;transform:scaleX(0.791);transform-origin:0 0;-webkit-text-stroke:0.35px #3e4840;">%</div>
<div class="t" style="left:1663.3px;top:393.8px;font-size:37.3px;line-height:37.3px;color:#3e4840;font-weight:700;letter-spacing:0.55px;">9,2</div>
<div class="t" style="left:1310.6px;top:386.0px;font-size:37.3px;line-height:37.3px;color:#8c7840;font-weight:700;letter-spacing:0.25px;">1 325,1</div>
<div class="t" style="left:1310.0px;top:420.9px;font-size:20.5px;line-height:20.5px;color:#3c423c;letter-spacing:1.00px;transform:scaleX(1.100);transform-origin:0 0;-webkit-text-stroke:0.25px #3c423c;">млн шт.</div>
<div class="r" style="left:1582.3px;top:516.8px;width:24.1px;height:23.9px;background:#c4965c;"></div>
<div class="t" style="left:1676.3px;top:506.6px;font-size:37.3px;line-height:37.3px;color:#434240;transform:scaleX(0.791);transform-origin:0 0;-webkit-text-stroke:0.35px #434240;">%</div>
<div class="t" style="left:1623.1px;top:506.6px;font-size:37.3px;line-height:37.3px;color:#434240;font-weight:700;letter-spacing:0.55px;">3,5</div>
<div class="t" style="left:1310.6px;top:499.7px;font-size:37.3px;line-height:37.3px;color:#8c7840;font-weight:700;letter-spacing:0.25px;">425,5</div>
<div class="t" style="left:1310.0px;top:534.6px;font-size:20.5px;line-height:20.5px;color:#3c423c;letter-spacing:1.00px;transform:scaleX(1.100);transform-origin:0 0;-webkit-text-stroke:0.25px #3c423c;">млн шт.</div>
<div class="r" style="left:1582.3px;top:616.6px;width:21.3px;height:24.2px;background:#c4965c;"></div>
<div class="t" style="left:1668.8px;top:609.2px;font-size:37.3px;line-height:37.3px;color:#3e4840;transform:scaleX(0.791);transform-origin:0 0;-webkit-text-stroke:0.35px #3e4840;">%</div>
<div class="t" style="left:1616.1px;top:609.2px;font-size:37.3px;line-height:37.3px;color:#3e4840;font-weight:700;letter-spacing:0.55px;">3,0</div>
<div class="t" style="left:1310.1px;top:599.9px;font-size:37.3px;line-height:37.3px;color:#8c7840;font-weight:700;letter-spacing:0.25px;">509,1</div>
<div class="t" style="left:1310.0px;top:634.8px;font-size:20.5px;line-height:20.5px;color:#3c423c;letter-spacing:1.00px;transform:scaleX(1.100);transform-origin:0 0;-webkit-text-stroke:0.25px #3c423c;">млн шт.</div>
<div class="r" style="left:1582.3px;top:706.4px;width:21.9px;height:24.2px;background:#c4965c;"></div>
<div class="t" style="left:1668.3px;top:698.1px;font-size:37.3px;line-height:37.3px;color:#3e4840;transform:scaleX(0.791);transform-origin:0 0;-webkit-text-stroke:0.35px #3e4840;">%</div>
<div class="t" style="left:1615.6px;top:698.1px;font-size:37.3px;line-height:37.3px;color:#3e4840;font-weight:700;letter-spacing:0.55px;">3,2</div>
<div class="t" style="left:1310.6px;top:694.2px;font-size:37.3px;line-height:37.3px;color:#8c7840;font-weight:700;letter-spacing:0.25px;">467,8</div>
<div class="t" style="left:1310.0px;top:729.1px;font-size:20.5px;line-height:20.5px;color:#3c423c;letter-spacing:1.00px;transform:scaleX(1.100);transform-origin:0 0;-webkit-text-stroke:0.25px #3c423c;">млн шт.</div>
<div class="r" style="left:1582.3px;top:800.6px;width:10.2px;height:24.1px;background:#c4965c;"></div>
<div class="t" style="left:1657.1px;top:792.3px;font-size:37.3px;line-height:37.3px;color:#3e4840;transform:scaleX(0.791);transform-origin:0 0;-webkit-text-stroke:0.35px #3e4840;">%</div>
<div class="t" style="left:1603.9px;top:792.3px;font-size:37.3px;line-height:37.3px;color:#3e4840;font-weight:700;letter-spacing:0.55px;">1,5</div>
<div class="t" style="left:1309.9px;top:780.8px;font-size:37.3px;line-height:37.3px;color:#8c7840;font-weight:700;letter-spacing:0.25px;">216,5</div>
<div class="t" style="left:1310.0px;top:815.7px;font-size:20.5px;line-height:20.5px;color:#3c423c;letter-spacing:1.00px;transform:scaleX(1.100);transform-origin:0 0;-webkit-text-stroke:0.25px #3c423c;">млн шт.</div>
<div class="r" style="left:1582.3px;top:895.6px;width:9.3px;height:24.1px;background:#c4965c;"></div>
<div class="t" style="left:1657.1px;top:888.1px;font-size:37.3px;line-height:37.3px;color:#3e4840;transform:scaleX(0.791);transform-origin:0 0;-webkit-text-stroke:0.35px #3e4840;">%</div>
<div class="t" style="left:1604.3px;top:888.1px;font-size:37.3px;line-height:37.3px;color:#3e4840;font-weight:700;letter-spacing:0.55px;">1,3</div>
<div class="t" style="left:1310.6px;top:882.2px;font-size:37.3px;line-height:37.3px;color:#8c7840;font-weight:700;letter-spacing:0.25px;">183,5</div>
<div class="t" style="left:1310.0px;top:917.1px;font-size:20.5px;line-height:20.5px;color:#3c423c;letter-spacing:1.00px;transform:scaleX(1.100);transform-origin:0 0;-webkit-text-stroke:0.25px #3c423c;">млн шт.</div>
<div class="r" style="left:1582.3px;top:993.0px;width:116.6px;height:24.1px;background:#c4965c;"></div>
<div class="t" style="left:1792.6px;top:983.1px;font-size:37.3px;line-height:37.3px;color:#434240;transform:scaleX(0.791);transform-origin:0 0;-webkit-text-stroke:0.35px #434240;">%</div>
<div class="t" style="left:1718.5px;top:983.1px;font-size:37.3px;line-height:37.3px;color:#434240;font-weight:700;letter-spacing:0.55px;">16,9</div>
<div class="t" style="left:1309.9px;top:976.7px;font-size:37.3px;line-height:37.3px;color:#8c7840;font-weight:700;letter-spacing:0.25px;">2 430,3</div>
<div class="t" style="left:1310.0px;top:1011.6px;font-size:20.5px;line-height:20.5px;color:#3c423c;letter-spacing:1.00px;transform:scaleX(1.100);transform-origin:0 0;-webkit-text-stroke:0.25px #3c423c;">млн шт.</div>
<div class="r" style="left:1582.3px;top:1074.4px;width:66.7px;height:24.2px;background:#c4965c;"></div>
<div class="t" style="left:1724.2px;top:1064.9px;font-size:37.3px;line-height:37.3px;color:#434240;transform:scaleX(0.791);transform-origin:0 0;-webkit-text-stroke:0.35px #434240;">%</div>
<div class="t" style="left:1671.5px;top:1064.9px;font-size:37.3px;line-height:37.3px;color:#434240;font-weight:700;letter-spacing:0.55px;">9,7</div>
<div class="t" style="left:1310.6px;top:1057.5px;font-size:37.3px;line-height:37.3px;color:#8c7840;font-weight:700;letter-spacing:0.25px;">1 392,6</div>
<div class="t" style="left:1310.0px;top:1092.4px;font-size:20.5px;line-height:20.5px;color:#3c423c;letter-spacing:1.00px;transform:scaleX(1.100);transform-origin:0 0;-webkit-text-stroke:0.25px #3c423c;">млн шт.</div>
<div class="r" style="left:1582.3px;top:1167.8px;width:87.3px;height:24.2px;background:#c4965c;"></div>
<div class="t" style="left:1763.6px;top:1158.9px;font-size:37.3px;line-height:37.3px;color:#434240;transform:scaleX(0.791);transform-origin:0 0;-webkit-text-stroke:0.35px #434240;">%</div>
<div class="t" style="left:1689.7px;top:1158.9px;font-size:37.3px;line-height:37.3px;color:#434240;font-weight:700;letter-spacing:0.55px;">12,7</div>
<div class="t" style="left:1310.6px;top:1151.9px;font-size:37.3px;line-height:37.3px;color:#8c7840;font-weight:700;letter-spacing:0.25px;">1 832,6</div>
<div class="t" style="left:1310.0px;top:1186.8px;font-size:20.5px;line-height:20.5px;color:#3c423c;letter-spacing:1.00px;transform:scaleX(1.100);transform-origin:0 0;-webkit-text-stroke:0.25px #3c423c;">млн шт.</div>
<div class="r" style="left:1582.3px;top:1271.0px;width:74.7px;height:25.0px;background:#c4965c;"></div>
<div class="t" style="left:1753.2px;top:1261.7px;font-size:37.3px;line-height:37.3px;color:#434240;transform:scaleX(0.791);transform-origin:0 0;-webkit-text-stroke:0.35px #434240;">%</div>
<div class="t" style="left:1678.9px;top:1261.7px;font-size:37.3px;line-height:37.3px;color:#434240;font-weight:700;letter-spacing:0.55px;">10,8</div>
<div class="t" style="left:1310.6px;top:1252.4px;font-size:37.3px;line-height:37.3px;color:#8c7840;font-weight:700;letter-spacing:0.25px;">1 558,7</div>
<div class="t" style="left:1310.0px;top:1287.3px;font-size:20.5px;line-height:20.5px;color:#3c423c;letter-spacing:1.00px;transform:scaleX(1.100);transform-origin:0 0;-webkit-text-stroke:0.25px #3c423c;">млн шт.</div>
<svg style="left:0;top:0" width="2048" height="1448" viewBox="0 0 2048 1448"><defs>
<radialGradient id="gp" cx="0.45" cy="0.4" r="0.65"><stop offset="0" stop-color="#f8f4de"/><stop offset="0.7" stop-color="#ece5c3"/><stop offset="1" stop-color="#cfc293"/></radialGradient>
<radialGradient id="gy" cx="0.45" cy="0.4" r="0.65"><stop offset="0" stop-color="#f7f2c9"/><stop offset="0.7" stop-color="#ebe1a6"/><stop offset="1" stop-color="#c8b76e"/></radialGradient>
<radialGradient id="gg" cx="0.45" cy="0.38" r="0.7"><stop offset="0" stop-color="#eddb9a"/><stop offset="0.65" stop-color="#e1ca80"/><stop offset="1" stop-color="#c4a258"/></radialGradient>
<radialGradient id="gw" cx="0.45" cy="0.4" r="0.65"><stop offset="0" stop-color="#ffffff"/><stop offset="0.75" stop-color="#f1f1f1"/><stop offset="1" stop-color="#c9c9c9"/></radialGradient>
<linearGradient id="gs" x1="0.2" y1="0" x2="0.8" y2="1"><stop offset="0" stop-color="#d3d4d6"/><stop offset="0.5" stop-color="#adafb2"/><stop offset="1" stop-color="#898c8e"/></linearGradient>
<linearGradient id="gi" x1="0.3" y1="0" x2="0.7" y2="1"><stop offset="0" stop-color="#ededee"/><stop offset="0.55" stop-color="#d2d3d5"/><stop offset="1" stop-color="#adafb2"/></linearGradient>
</defs><g><circle cx="1509.3" cy="313.2" r="38.8" fill="url(#gp)" stroke="#7d6f48" stroke-width="1.3"/><circle cx="1509.3" cy="313.2" r="37.2" fill="none" stroke="#7d6f48" stroke-opacity="0.35" stroke-width="1.800"/><circle cx="1509.3" cy="313.2" r="33.8" fill="none" stroke="#7d6f48" stroke-opacity="0.8" stroke-width="1.9" stroke-dasharray="4.7 2.7 1.9 2.7"/><circle cx="1509.3" cy="313.2" r="31.0" fill="none" stroke="#7d6f48" stroke-opacity="0.6" stroke-width="1.6" stroke-dasharray="3.5 3.9" transform="rotate(9 1509.3 313.2)"/><text x="1489.3" y="323.0" font-size="47.6" font-family="Liberation Sans, sans-serif" font-weight="700" fill="url(#gp)" stroke="#7d6f48" stroke-width="0.9" textLength="40.0" lengthAdjust="spacingAndGlyphs">10</text><text x="1486.3" y="337.0" font-size="12.5" font-family="Liberation Sans, sans-serif" font-weight="700" fill="url(#gp)" stroke="#7d6f48" stroke-width="0.700" textLength="46.0" lengthAdjust="spacingAndGlyphs">КОПІЙОК</text></g><g><circle cx="1510" cy="416.6" r="50.6" fill="url(#gp)" stroke="#7d6f48" stroke-width="1.3"/><circle cx="1510" cy="416.6" r="49.1" fill="none" stroke="#7d6f48" stroke-opacity="0.35" stroke-width="1.800"/><circle cx="1510" cy="416.6" r="44.0" fill="none" stroke="#7d6f48" stroke-opacity="0.8" stroke-width="2.5" stroke-dasharray="6.1 3.5 2.5 3.5"/><circle cx="1510" cy="416.6" r="40.5" fill="none" stroke="#7d6f48" stroke-opacity="0.6" stroke-width="2.0" stroke-dasharray="4.6 5.1" transform="rotate(9 1510 416.6)"/><text x="1485.0" y="427.5" font-size="60.0" font-family="Liberation Sans, sans-serif" font-weight="700" fill="url(#gp)" stroke="#7d6f48" stroke-width="0.9" textLength="50.0" lengthAdjust="spacingAndGlyphs">50</text><text x="1480.0" y="447.0" font-size="16.7" font-family="Liberation Sans, sans-serif" font-weight="700" fill="url(#gp)" stroke="#7d6f48" stroke-width="0.700" textLength="60.0" lengthAdjust="spacingAndGlyphs">КОПІЙОК</text></g><g><circle cx="1510.2" cy="528.5" r="53" fill="url(#gg)" stroke="#b39248" stroke-width="1.300"/><circle cx="1510.2" cy="528.5" r="51.0" fill="none" stroke="#f1dfa2" stroke-opacity="0.65" stroke-width="1.200"/><path d="M1501.2 548.5 C1490.2 550.5 1460.2 544.5 1462.2 522.5 C1464.2 508.5 1488.2 510.5 1489.2 526.5 C1489.2 537.5 1477.2 537.5 1477.2 529.5" fill="none" stroke="#b08e45" stroke-width="1.700" stroke-linecap="round"/><path d="M1498.2 514.5 C1496.2 488.5 1470.2 486.5 1470.2 501.5 C1470.2 512.5 1486.2 511.5 1485.2 502.5" fill="none" stroke="#b08e45" stroke-width="1.600" stroke-linecap="round"/><path d="M1485.7 519.4 l-14.0 16 M1479.7 517.4 l-12.0 14 M1473.7 516.4 l-9.0 11 M1467.7 519.4 l14.0 16 M1473.7 517.4 l12.0 14 M1479.7 516.4 l9.0 11" fill="none" stroke="#b08e45" stroke-opacity="0.8" stroke-width="1"/><path d="M1487.9 497.7 l-9.0 10 M1482.9 496.7 l-7.0 8 M1475.9 497.7 l9.0 10 M1480.9 496.7 l7.0 8" fill="none" stroke="#b08e45" stroke-opacity="0.8" stroke-width="0.900"/><path d="M1519.2 548.5 C1530.2 550.5 1560.2 544.5 1558.2 522.5 C1556.2 508.5 1532.2 510.5 1531.2 526.5 C1531.2 537.5 1543.2 537.5 1543.2 529.5" fill="none" stroke="#b08e45" stroke-width="1.700" stroke-linecap="round"/><path d="M1522.2 514.5 C1524.2 488.5 1550.2 486.5 1550.2 501.5 C1550.2 512.5 1534.2 511.5 1535.2 502.5" fill="none" stroke="#b08e45" stroke-width="1.600" stroke-linecap="round"/><path d="M1534.7 519.4 l14.0 16 M1540.7 517.4 l12.0 14 M1546.7 516.4 l9.0 11 M1552.7 519.4 l-14.0 16 M1546.7 517.4 l-12.0 14 M1540.7 516.4 l-9.0 11" fill="none" stroke="#b08e45" stroke-opacity="0.8" stroke-width="1"/><path d="M1532.5 497.7 l9.0 10 M1537.5 496.7 l7.0 8 M1544.5 497.7 l-9.0 10 M1539.5 496.7 l-7.0 8" fill="none" stroke="#b08e45" stroke-opacity="0.8" stroke-width="0.900"/><path d="M1486.5 518.8 l-14.0 16 M1480.5 516.8 l-12.0 14 M1468.5 518.8 l14.0 16 M1474.5 516.8 l12.0 14" fill="none" stroke="#f0de9e" stroke-opacity="0.7" stroke-width="0.800"/><path d="M1535.5 518.8 l14.0 16 M1541.5 516.8 l12.0 14 M1553.5 518.8 l-14.0 16 M1547.5 516.8 l-12.0 14" fill="none" stroke="#f0de9e" stroke-opacity="0.7" stroke-width="0.800"/><text x="1493.7" y="548.4" font-size="92.1" font-family="Liberation Sans, sans-serif" font-weight="700" fill="#ecd992" stroke="#a98840" stroke-width="1.200" textLength="33" lengthAdjust="spacingAndGlyphs">1</text><text x="1477.7" y="566.5" font-size="16.7" font-family="Liberation Sans, sans-serif" font-weight="700" fill="#f1e0a0" stroke="#a5833b" stroke-width="0.800" textLength="65" lengthAdjust="spacingAndGlyphs">ГРИВНЯ</text></g><g><circle cx="1511" cy="629.3" r="38.3" fill="url(#gs)" stroke="#8a8c8e" stroke-width="0.900"/><circle cx="1511" cy="629.3" r="35.6" fill="none" stroke="#e9eaeb" stroke-opacity="0.8" stroke-width="0.900"/><circle cx="1511" cy="629.3" r="31.4" fill="none" stroke="#d5d6d8" stroke-opacity="0.75" stroke-width="3.8" stroke-dasharray="1.300 1.300"/><circle cx="1511" cy="628.5" r="27.6" fill="url(#gi)" stroke="#8f9193" stroke-width="0.900"/><path d="M1507.2 593.7 h7.7 v9.2 l-3.8 3.8 l-3.8 -3.8 Z" fill="#c9cacc" stroke="#7f8183" stroke-width="0.600"/><path d="M1511.0 595.2 v9.2 M1508.9 596.0 v6.1 M1513.1 596.0 v6.1" stroke="#8a8c8e" stroke-width="0.600" fill="none"/><path d="M1496.4 599.4 l-7.7 -1.5 M1495.7 602.5 l-7.7 -0.8" stroke="#7f8183" stroke-width="1.100" fill="none"/><path d="M1483.4 640.0 l-6.1 2.3" stroke="#7f8183" stroke-width="1.300" fill="none"/><path d="M1525.6 599.4 l7.7 -1.5 M1526.3 602.5 l7.7 -0.8" stroke="#7f8183" stroke-width="1.100" fill="none"/><path d="M1538.6 640.0 l6.1 2.3" stroke="#7f8183" stroke-width="1.300" fill="none"/><text x="1511" y="614.0" font-size="7.7" text-anchor="middle" font-family="Liberation Serif, serif" font-weight="700" fill="#8b8d8f" stroke="#7b7d7f" stroke-width="0.200" letter-spacing="0.100">УКРАЇНА</text><text x="1511" y="640.8" font-size="37.5" text-anchor="middle" font-family="Liberation Serif, serif" font-weight="700" fill="#dfe0e2" stroke="#6d6f71" stroke-width="0.900" letter-spacing="-0.500">1</text><path id="arc1" d="M1485.7 628.5 A25.3 25.3 0 0 0 1536.3 628.5" fill="none"/><text font-size="10.3" font-family="Liberation Serif, serif" font-weight="700" fill="#909294" stroke="#66686a" stroke-width="0.400" letter-spacing="0.600"><textPath href="#arc1" startOffset="50%" text-anchor="middle">ГРИВНЯ</textPath></text></g><g><circle cx="1509.6" cy="718.3" r="42" fill="url(#gs)" stroke="#8a8c8e" stroke-width="0.900"/><circle cx="1509.6" cy="718.3" r="39.1" fill="none" stroke="#e9eaeb" stroke-opacity="0.8" stroke-width="0.900"/><circle cx="1509.6" cy="718.3" r="34.4" fill="none" stroke="#d5d6d8" stroke-opacity="0.75" stroke-width="4.2" stroke-dasharray="1.300 1.300"/><circle cx="1509.6" cy="717.5" r="30.2" fill="url(#gi)" stroke="#8f9193" stroke-width="0.900"/><path d="M1505.4 679.2 h8.4 v10.1 l-4.2 4.2 l-4.2 -4.2 Z" fill="#c9cacc" stroke="#7f8183" stroke-width="0.600"/><path d="M1509.6 680.9 v10.1 M1507.2 681.8 v6.7 M1512.0 681.8 v6.7" stroke="#8a8c8e" stroke-width="0.600" fill="none"/><path d="M1493.6 685.5 l-8.4 -1.7 M1492.8 688.9 l-8.4 -0.8" stroke="#7f8183" stroke-width="1.100" fill="none"/><path d="M1479.4 730.1 l-6.7 2.5" stroke="#7f8183" stroke-width="1.300" fill="none"/><path d="M1525.6 685.5 l8.4 -1.7 M1526.4 688.9 l8.4 -0.8" stroke="#7f8183" stroke-width="1.100" fill="none"/><path d="M1539.8 730.1 l6.7 2.5" stroke="#7f8183" stroke-width="1.300" fill="none"/><text x="1509.6" y="701.5" font-size="8.4" text-anchor="middle" font-family="Liberation Serif, serif" font-weight="700" fill="#8b8d8f" stroke="#7b7d7f" stroke-width="0.200" letter-spacing="0.100">УКРАЇНА</text><text x="1509.6" y="730.9" font-size="41.2" text-anchor="middle" font-family="Liberation Serif, serif" font-weight="700" fill="#dfe0e2" stroke="#6d6f71" stroke-width="0.900" letter-spacing="-0.500">2</text><path id="arc2" d="M1481.9 717.5 A27.7 27.7 0 0 0 1537.3 717.5" fill="none"/><text font-size="11.3" font-family="Liberation Serif, serif" font-weight="700" fill="#909294" stroke="#66686a" stroke-width="0.400" letter-spacing="0.600"><textPath href="#arc2" startOffset="50%" text-anchor="middle">ГРИВНІ</textPath></text></g><g><polygon points="1520.5,768.7 1538.7,777.5 1551.3,793.3 1555.8,813.0 1551.3,832.7 1538.7,848.5 1520.5,857.3 1500.3,857.3 1482.1,848.5 1469.5,832.7 1465.0,813.0 1469.5,793.3 1482.1,777.5 1500.3,768.7" fill="url(#gs)" stroke="#8a8c8e" stroke-width="0.900" stroke-linejoin="round"/><circle cx="1510.4" cy="813" r="41.4" fill="none" stroke="#e9eaeb" stroke-opacity="0.8" stroke-width="0.900"/><circle cx="1510.4" cy="813" r="36.5" fill="none" stroke="#d5d6d8" stroke-opacity="0.75" stroke-width="4.5" stroke-dasharray="1.300 1.300"/><circle cx="1510.4" cy="812.1" r="32.0" fill="url(#gi)" stroke="#8f9193" stroke-width="0.900"/><path d="M1506.0 771.6 h8.9 v10.7 l-4.5 4.5 l-4.5 -4.5 Z" fill="#c9cacc" stroke="#7f8183" stroke-width="0.600"/><path d="M1510.4 773.4 v10.7 M1507.9 774.3 v7.1 M1512.9 774.3 v7.1" stroke="#8a8c8e" stroke-width="0.600" fill="none"/><path d="M1493.5 778.3 l-8.9 -1.8 M1492.6 781.9 l-8.9 -0.9" stroke="#7f8183" stroke-width="1.100" fill="none"/><path d="M1478.4 825.5 l-7.1 2.7" stroke="#7f8183" stroke-width="1.300" fill="none"/><path d="M1527.3 778.3 l8.9 -1.8 M1528.2 781.9 l8.9 -0.9" stroke="#7f8183" stroke-width="1.100" fill="none"/><path d="M1542.4 825.5 l7.1 2.7" stroke="#7f8183" stroke-width="1.300" fill="none"/><text x="1510.4" y="795.2" font-size="8.9" text-anchor="middle" font-family="Liberation Serif, serif" font-weight="700" fill="#8b8d8f" stroke="#7b7d7f" stroke-width="0.200" letter-spacing="0.100">УКРАЇНА</text><text x="1510.4" y="826.4" font-size="43.6" text-anchor="middle" font-family="Liberation Serif, serif" font-weight="700" fill="#dfe0e2" stroke="#6d6f71" stroke-width="0.900" letter-spacing="-0.500">5</text><path id="arc3" d="M1481.0 812.1 A29.4 29.4 0 0 0 1539.8 812.1" fill="none"/><text font-size="12.0" font-family="Liberation Serif, serif" font-weight="700" fill="#909294" stroke="#66686a" stroke-width="0.400" letter-spacing="0.600"><textPath href="#arc3" startOffset="50%" text-anchor="middle">ГРИВЕНЬ</textPath></text></g><g><circle cx="1509.6" cy="912" r="47.4" fill="url(#gs)" stroke="#8a8c8e" stroke-width="0.900"/><circle cx="1509.6" cy="912" r="44.1" fill="none" stroke="#e9eaeb" stroke-opacity="0.8" stroke-width="0.900"/><circle cx="1509.6" cy="912" r="38.9" fill="none" stroke="#d5d6d8" stroke-opacity="0.75" stroke-width="4.7" stroke-dasharray="1.300 1.300"/><circle cx="1509.6" cy="911.1" r="34.1" fill="url(#gi)" stroke="#8f9193" stroke-width="0.900"/><path d="M1504.9 867.9 h9.5 v11.4 l-4.7 4.7 l-4.7 -4.7 Z" fill="#c9cacc" stroke="#7f8183" stroke-width="0.600"/><path d="M1509.6 869.8 v11.4 M1506.9 870.8 v7.6 M1512.3 870.8 v7.6" stroke="#8a8c8e" stroke-width="0.600" fill="none"/><path d="M1491.6 875.0 l-9.5 -1.9 M1490.6 878.8 l-9.5 -0.9" stroke="#7f8183" stroke-width="1.100" fill="none"/><path d="M1475.5 925.3 l-7.6 2.8" stroke="#7f8183" stroke-width="1.300" fill="none"/><path d="M1527.6 875.0 l9.5 -1.9 M1528.6 878.8 l9.5 -0.9" stroke="#7f8183" stroke-width="1.100" fill="none"/><path d="M1543.7 925.3 l7.6 2.8" stroke="#7f8183" stroke-width="1.300" fill="none"/><text x="1509.6" y="893.0" font-size="9.5" text-anchor="middle" font-family="Liberation Serif, serif" font-weight="700" fill="#8b8d8f" stroke="#7b7d7f" stroke-width="0.200" letter-spacing="0.100">УКРАЇНА</text><text x="1509.6" y="926.2" font-size="46.5" text-anchor="middle" font-family="Liberation Serif, serif" font-weight="700" fill="#dfe0e2" stroke="#6d6f71" stroke-width="0.900" letter-spacing="-0.500">10</text><path id="arc4" d="M1478.3 911.1 A31.3 31.3 0 0 0 1540.9 911.1" fill="none"/><text font-size="12.8" font-family="Liberation Serif, serif" font-weight="700" fill="#909294" stroke="#66686a" stroke-width="0.400" letter-spacing="0.600"><textPath href="#arc4" startOffset="50%" text-anchor="middle">ГРИВЕНЬ</textPath></text></g><g><circle cx="1509.1" cy="1003.9" r="34" fill="url(#gw)" stroke="#7f7f7f" stroke-width="2"/><circle cx="1509.1" cy="1003.9" r="32.1" fill="none" stroke="#7f7f7f" stroke-opacity="0.35" stroke-width="1.800"/><circle cx="1509.1" cy="1003.9" r="29.6" fill="none" stroke="#7f7f7f" stroke-opacity="0.8" stroke-width="1.7" stroke-dasharray="4.1 2.4 1.7 2.4"/><circle cx="1509.1" cy="1003.9" r="27.2" fill="none" stroke="#7f7f7f" stroke-opacity="0.6" stroke-width="1.4" stroke-dasharray="3.1 3.4" transform="rotate(9 1509.1 1003.9)"/><text x="1499.1" y="1011.6" font-size="45.9" font-family="Liberation Serif, serif" font-weight="700" fill="url(#gw)" stroke="#7f7f7f" stroke-width="0.9" textLength="20.0" lengthAdjust="spacingAndGlyphs">1</text><text x="1486.3" y="1024.2" font-size="11.0" font-family="Liberation Sans, sans-serif" font-weight="700" fill="url(#gw)" stroke="#7f7f7f" stroke-width="0.700" textLength="45.5" lengthAdjust="spacingAndGlyphs">КОПІЙКА</text></g><g><circle cx="1509.6" cy="1087" r="36" fill="url(#gw)" stroke="#7f7f7f" stroke-width="2"/><circle cx="1509.6" cy="1087" r="34.1" fill="none" stroke="#7f7f7f" stroke-opacity="0.35" stroke-width="1.800"/><circle cx="1509.6" cy="1087" r="31.3" fill="none" stroke="#7f7f7f" stroke-opacity="0.8" stroke-width="1.8" stroke-dasharray="4.3 2.5 1.8 2.5"/><circle cx="1509.6" cy="1087" r="28.8" fill="none" stroke="#7f7f7f" stroke-opacity="0.6" stroke-width="1.4" stroke-dasharray="3.2 3.6" transform="rotate(9 1509.6 1087)"/><text x="1498.6" y="1093.8" font-size="42.9" font-family="Liberation Serif, serif" font-weight="700" fill="url(#gw)" stroke="#7f7f7f" stroke-width="0.9" textLength="22.0" lengthAdjust="spacingAndGlyphs">2</text><text x="1486.4" y="1108.3" font-size="11.3" font-family="Liberation Sans, sans-serif" font-weight="700" fill="url(#gw)" stroke="#7f7f7f" stroke-width="0.700" textLength="46.4" lengthAdjust="spacingAndGlyphs">КОПІЙКИ</text></g><g><circle cx="1508.8" cy="1180.4" r="48.5" fill="url(#gw)" stroke="#8a8a8a" stroke-width="1.3"/><circle cx="1508.8" cy="1180.4" r="47.0" fill="none" stroke="#8a8a8a" stroke-opacity="0.35" stroke-width="1.800"/><circle cx="1508.8" cy="1180.4" r="42.2" fill="none" stroke="#8a8a8a" stroke-opacity="0.8" stroke-width="2.4" stroke-dasharray="5.8 3.4 2.4 3.4"/><circle cx="1508.8" cy="1180.4" r="38.8" fill="none" stroke="#8a8a8a" stroke-opacity="0.6" stroke-width="1.9" stroke-dasharray="4.4 4.9" transform="rotate(9 1508.8 1180.4)"/><text x="1493.3" y="1191.4" font-size="65.7" font-family="Liberation Sans, sans-serif" font-weight="700" fill="url(#gw)" stroke="#8a8a8a" stroke-width="0.9" textLength="31.0" lengthAdjust="spacingAndGlyphs">5</text><text x="1481.0" y="1211.2" font-size="17.7" font-family="Liberation Sans, sans-serif" font-weight="700" fill="url(#gw)" stroke="#8a8a8a" stroke-width="0.700" textLength="55.5" lengthAdjust="spacingAndGlyphs">КОПІЙОК</text></g><g><circle cx="1510" cy="1283.8" r="42.8" fill="url(#gy)" stroke="#7d6d33" stroke-width="1.3"/><circle cx="1510" cy="1283.8" r="41.2" fill="none" stroke="#7d6d33" stroke-opacity="0.35" stroke-width="1.800"/><circle cx="1510" cy="1283.8" r="37.2" fill="none" stroke="#7d6d33" stroke-opacity="0.8" stroke-width="2.1" stroke-dasharray="5.1 3.0 2.1 3.0"/><circle cx="1510" cy="1283.8" r="34.2" fill="none" stroke="#7d6d33" stroke-opacity="0.6" stroke-width="1.7" stroke-dasharray="3.9 4.3" transform="rotate(9 1510 1283.8)"/><text x="1485.7" y="1291.8" font-size="52.1" font-family="Liberation Sans, sans-serif" font-weight="700" fill="#f3edbd" stroke="#7d6d33" stroke-width="1.1" textLength="48.6" lengthAdjust="spacingAndGlyphs">25</text><text x="1484.5" y="1308.5" font-size="14.5" font-family="Liberation Sans, sans-serif" font-weight="700" fill="#f3edbd" stroke="#7d6d33" stroke-width="0.700" textLength="51.0" lengthAdjust="spacingAndGlyphs">КОПІЙОК</text></g></svg>
<div class="r" style="left:1308.3px;top:1333.1px;width:408.7px;height:2.8px;background:#a1825f;"></div>
<div class="t" style="left:1449.5px;top:1338.0px;font-size:62.5px;line-height:62.5px;color:#8c7840;font-weight:700;letter-spacing:-0.87px;">14,4</div>
<div class="t" style="left:1463.6px;top:1400.2px;font-size:20.0px;line-height:20.0px;color:#3c423c;letter-spacing:0.50px;transform:scaleX(1.080);transform-origin:0 0;-webkit-text-stroke:0.25px #3c423c;">млрд шт.</div>
</section>
</main>
<footer>
<div class="r" style="left:207.0px;top:1434.2px;width:1841.0px;height:14.0px;background:#93c968;"></div>
<div class="r" style="left:0.0px;top:1359.5px;width:207.0px;height:89.0px;background:#067f4c;"></div>
<svg style="left:20px;top:1380px" width="30" height="46" viewBox="20 1380 30 46">
<path d="M29.500 1383.700 H40.200 L46.200 1402.800 L40.200 1421.800 H29.500 L23.500 1402.800 Z" fill="none" stroke="#e9faea" stroke-width="1.800"/>
<path d="M31 1386.500 H38.600 L32.200 1419 H31 L25.800 1402.800 Z" fill="#f2fff2"/>
</svg>
<div class="t" style="left:56.3px;top:1379.9px;font-size:22.5px;line-height:22.5px;color:#ecfbe9;letter-spacing:0.35px;transform:scaleX(0.860);transform-origin:0 0;-webkit-text-stroke:0.4px #ecfbe9;">Національний</div>
<div class="t" style="left:56.6px;top:1402.7px;font-size:22.5px;line-height:22.5px;color:#ecfbe9;letter-spacing:1.56px;transform:scaleX(0.860);transform-origin:0 0;-webkit-text-stroke:0.4px #ecfbe9;">банк України</div>
</footer>
</body></html>
